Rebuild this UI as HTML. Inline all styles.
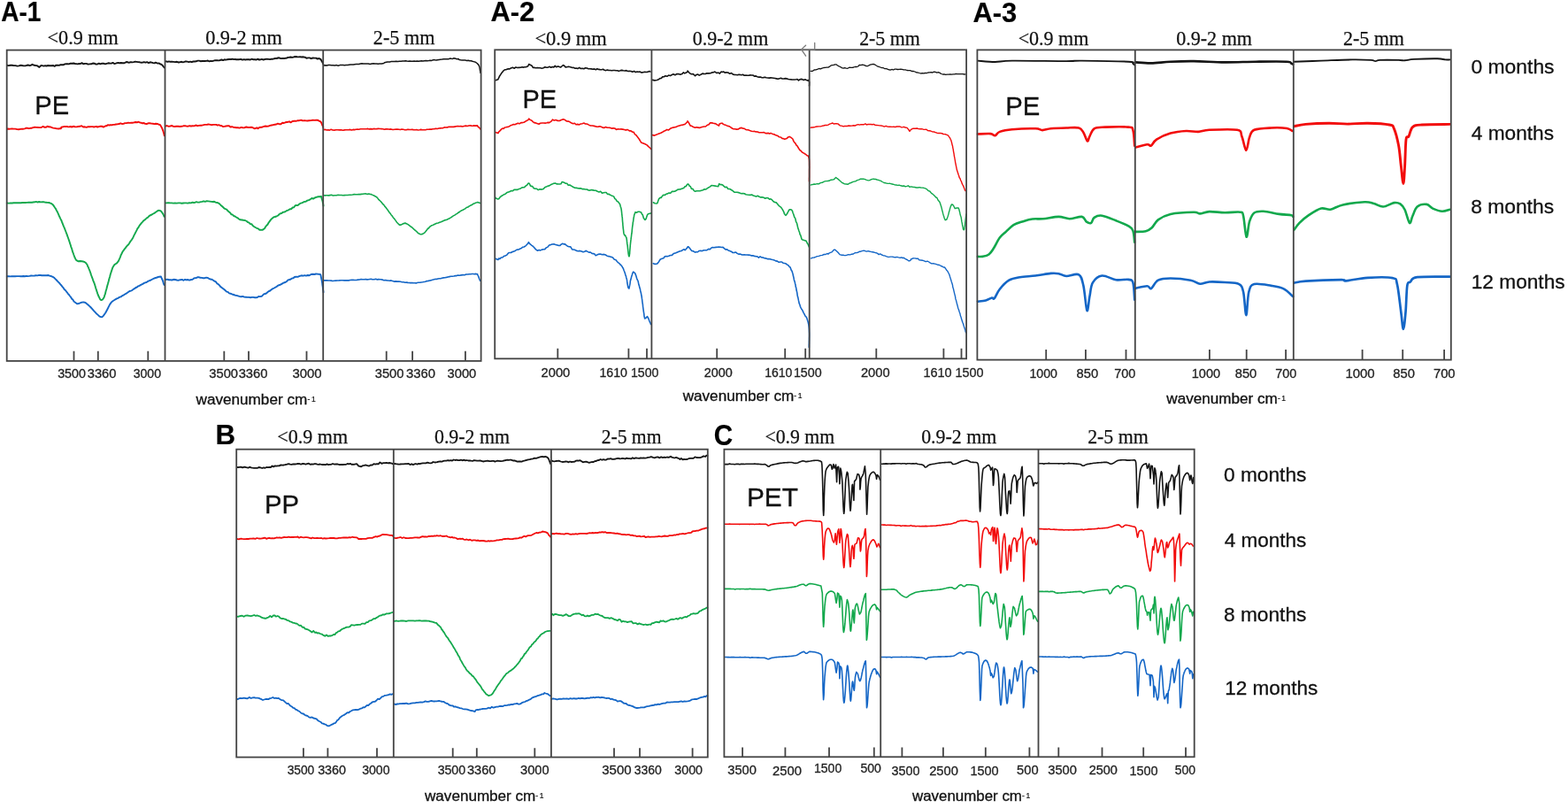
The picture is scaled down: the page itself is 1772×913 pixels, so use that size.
<!DOCTYPE html>
<html><head><meta charset="utf-8"><title>FTIR spectra of aged microplastics</title>
<style>html,body{margin:0;padding:0;background:#fff;overflow:hidden;} svg{display:block;}</style>
</head><body>
<svg width="1772" height="913" viewBox="0 0 1772 913">
<rect width="100%" height="100%" fill="#fff"/>
<g fill="none" stroke-linejoin="round" stroke-linecap="round">
<polyline points="7.9,73.7 8.9,74.1 10.3,74.0 11.9,73.8 13.7,73.7 15.6,74.1 17.5,74.1 19.5,74.6 21.4,74.4 23.1,73.8 24.7,74.0 26.7,74.4 28.6,74.4 30.4,73.8 32.1,73.5 33.7,74.2 35.2,73.7 36.5,72.8 38.9,73.8 40.6,74.1 42.0,74.2 44.4,75.9 46.5,74.0 47.6,74.1 49.7,74.6 51.0,74.2 52.6,74.5 54.3,74.0 56.2,74.2 58.2,74.2 60.2,74.0 61.7,74.9 63.4,73.6 65.0,73.7 66.8,73.9 68.5,73.1 70.1,73.2 71.8,73.3 73.3,72.4 75.0,72.3 76.4,72.3 77.7,72.4 79.2,71.8 81.2,71.7 83.8,71.5 85.0,72.1 86.3,72.1 87.8,72.4 89.3,72.0 90.9,72.0 92.5,71.1 94.2,72.2 96.0,71.9 97.7,71.9 99.5,72.6 101.4,72.4 103.2,72.3 104.9,71.5 106.7,71.7 108.4,72.6 110.1,72.5 111.8,71.6 113.5,72.3 115.2,71.7 117.0,71.7 118.8,72.3 120.5,71.8 122.3,71.3 124.1,71.5 125.8,71.6 127.5,70.9 129.2,72.0 130.8,71.6 132.3,71.1 133.7,70.9 135.1,71.4 136.4,71.0 138.7,71.3 140.6,71.3 142.3,70.3 143.8,70.0 145.2,70.7 146.5,70.5 147.9,70.1 149.5,70.4 151.1,70.1 152.8,69.7 154.4,69.9 156.1,70.1 157.8,70.3 159.4,70.7 161.1,70.6 162.7,70.1 164.4,70.7 166.2,70.2 168.0,71.1 169.7,70.3 171.5,70.6 173.1,71.1 174.5,71.4 175.8,70.7 178.2,71.6 179.8,71.4 181.1,72.4 182.8,73.0 184.0,74.4 185.7,76.5" stroke="#141414" stroke-width="1.9"/>
<polyline points="7.9,145.7 8.9,145.5 10.2,145.7 11.8,145.6 13.5,145.4 15.4,145.6 17.3,145.6 19.3,146.1 21.2,146.2 23.0,145.9 24.7,145.7 26.4,145.7 28.1,145.3 29.7,144.7 31.2,144.8 32.8,145.2 34.4,144.8 35.9,144.7 37.5,144.1 39.2,143.8 40.9,143.9 42.8,144.0 44.7,144.1 46.7,144.0 48.6,142.9 50.4,143.8 52.1,143.8 53.6,142.7 54.9,143.3 57.3,143.5 58.6,144.1 60.2,144.6 62.1,144.9 64.2,145.4 66.3,145.5 68.1,145.1 68.9,145.2 69.3,143.7 73.3,142.9 74.3,143.2 75.4,142.9 76.7,143.2 78.1,143.4 79.6,143.0 81.2,143.5 82.9,142.8 84.7,143.2 86.5,143.4 88.4,143.0 90.3,142.8 92.2,142.2 94.1,143.5 95.9,143.3 97.8,143.8 99.6,143.1 101.4,143.2 103.1,143.1 104.7,143.1 106.2,143.5 107.6,143.1 108.9,143.0 110.1,143.5 112.9,142.8 115.1,142.6 116.8,143.6 118.2,142.9 119.4,142.2 120.6,142.2 121.8,141.1 123.3,141.5 124.9,141.3 126.4,141.3 127.9,140.9 129.4,140.9 131.0,140.5 132.7,140.3 134.4,140.0 136.4,139.3 137.9,140.0 139.5,139.9 141.2,139.1 143.0,139.1 144.8,138.6 146.7,138.9 148.5,138.6 150.3,138.7 151.9,138.3 153.5,138.0 154.9,138.4 156.1,137.7 158.5,138.6 159.8,138.8 160.9,139.3 162.7,139.0 164.1,139.9 165.7,140.0 167.5,139.3 169.3,139.2 171.2,139.6 172.9,139.8 174.5,140.1 175.8,139.8 178.2,140.0 179.8,140.8 181.1,141.1 182.1,143.1 183.0,144.5 183.8,146.6 184.4,148.1 185.0,150.2 185.4,151.7 185.7,153.2" stroke="#f20c0c" stroke-width="1.9"/>
<polyline points="7.8,229.4 8.8,229.5 10.2,229.6 11.8,229.5 13.6,229.5 15.5,229.3 17.5,229.3 19.6,229.1 21.6,229.2 23.6,229.2 25.2,229.0 26.9,229.0 28.7,229.0 30.5,228.9 32.3,228.7 34.1,228.7 35.9,228.7 37.6,228.5 39.2,228.3 40.8,227.9 42.2,228.5 44.2,228.0 46.1,228.4 47.8,228.3 49.3,228.2 50.8,228.6 52.1,228.7 53.4,228.9 55.4,229.0 56.9,229.6 58.4,230.2 59.9,231.4 60.7,232.6 61.5,233.8 62.2,234.8 63.0,235.8 63.8,237.7 64.6,238.9 65.5,240.9 66.4,242.9 66.9,244.2 67.5,245.3 68.1,246.7 68.7,247.9 69.4,249.1 70.0,250.9 70.7,252.5 71.3,254.1 72.0,255.9 72.6,257.1 73.3,258.9 73.9,260.5 74.5,262.0 75.1,263.7 75.7,265.1 76.3,266.9 76.9,268.5 77.5,270.2 78.1,271.9 78.7,273.8 79.2,275.4 79.8,277.0 80.3,279.1 80.9,280.3 81.4,282.1 81.9,283.9 82.3,285.2 82.8,286.2 83.2,287.5 84.3,290.5 85.2,292.3 85.9,293.7 86.9,294.4 88.6,295.3 90.6,295.0 92.5,295.3 93.9,295.5 95.2,295.9 96.6,296.7 98.1,298.5 98.7,299.4 99.2,301.1 99.9,302.0 100.5,303.9 101.1,305.1 101.8,307.0 102.5,308.9 103.1,311.0 103.7,312.5 104.3,314.1 104.9,315.8 105.5,317.7 106.1,318.9 106.7,320.4 107.2,322.1 107.8,324.0 108.3,325.8 108.8,327.1 109.3,328.9 109.8,330.3 110.2,331.6 110.7,332.9 111.1,334.0 112.4,336.7 113.4,338.7 114.4,339.0 115.9,338.6 117.6,336.0 118.0,334.7 118.4,333.3 118.9,332.2 119.3,330.2 119.8,328.3 120.3,326.7 120.8,324.7 121.3,322.7 121.8,321.1 122.3,319.3 122.8,317.5 123.2,315.8 123.7,314.1 124.2,312.5 124.7,310.3 125.2,308.7 125.8,306.9 126.3,305.4 126.8,303.9 127.3,302.4 127.8,301.5 129.2,299.3 130.6,298.2 132.0,297.4 133.4,295.6 134.1,294.7 134.7,293.2 135.3,291.9 136.0,290.1 136.6,288.4 137.3,287.0 138.1,285.3 139.0,283.8 139.9,282.6 140.8,281.3 141.8,280.1 142.9,278.6 144.0,277.3 145.1,276.4 146.2,274.8 147.2,273.0 148.3,271.6 149.1,270.5 149.9,269.2 150.6,267.9 151.4,266.2 152.2,264.6 152.9,263.3 153.7,261.6 154.5,260.2 155.3,258.4 156.1,257.4 156.8,256.4 157.6,254.9 158.8,253.4 160.0,251.9 161.2,250.7 162.4,249.2 163.5,248.4 164.7,247.4 165.8,246.4 166.9,245.8 168.5,244.1 170.1,243.1 171.6,242.5 173.1,241.5 174.4,240.9 176.0,239.8 177.4,238.8 178.8,237.9 180.0,237.8 181.4,238.2 182.7,239.5 183.7,241.1 184.8,242.8 185.5,244.7" stroke="#12a84c" stroke-width="1.9"/>
<polyline points="7.8,312.2 8.8,312.2 10.1,312.3 11.5,312.4 13.2,312.3 15.0,312.3 17.0,312.3 19.1,312.1 21.3,312.1 23.6,312.3 25.0,312.3 26.5,312.0 28.1,312.2 29.8,311.9 31.6,312.1 33.4,311.9 35.2,311.5 37.1,311.6 38.9,311.5 40.7,311.3 42.4,311.4 44.1,310.9 45.7,311.0 47.2,311.2 48.5,311.3 49.7,311.3 52.7,311.3 54.7,311.0 56.2,311.7 57.5,311.9 59.0,312.6 60.3,313.2 61.5,314.1 62.7,315.3 63.9,316.5 65.1,317.8 66.4,319.2 67.3,320.0 68.3,321.3 69.4,322.5 70.4,323.9 71.5,325.1 72.5,326.7 73.6,327.7 74.7,329.0 75.7,330.3 76.8,331.8 77.9,333.0 79.0,334.5 80.1,335.8 81.2,337.7 82.3,338.6 83.3,340.3 84.2,341.2 85.0,341.7 87.1,343.2 88.8,343.0 90.5,342.4 92.4,341.6 94.3,341.5 95.6,341.6 97.0,342.3 98.4,343.6 99.9,344.8 101.1,345.9 102.3,347.0 103.6,348.4 104.9,349.9 106.2,351.4 107.4,352.6 108.8,354.2 110.2,355.4 111.5,356.6 112.7,357.7 113.9,358.1 115.5,358.2 116.8,356.9 118.5,354.5 119.2,353.5 119.9,352.2 120.7,350.7 121.5,349.3 122.4,347.4 123.3,345.6 124.2,343.9 125.1,342.6 126.0,341.4 127.4,340.2 128.9,339.3 130.4,338.3 132.0,337.4 133.6,336.8 135.3,335.6 136.6,335.4 137.9,334.3 139.3,333.7 140.7,332.8 142.2,331.9 143.6,331.0 145.0,330.0 146.4,329.0 147.8,328.6 149.2,328.1 150.6,326.9 152.0,326.2 153.4,325.0 154.8,324.5 156.2,323.3 157.6,322.8 159.2,321.9 160.8,321.2 162.4,320.1 164.0,319.4 165.6,319.0 167.2,317.8 168.8,317.2 170.5,316.5 172.2,315.5 174.0,314.7 175.8,314.0 177.4,313.5 178.8,313.0 180.0,312.7 181.9,312.5 182.7,314.5 183.5,316.1 184.3,318.3 185.0,320.9 185.5,321.9" stroke="#1466c6" stroke-width="1.9"/>
<polyline points="187.3,69.4 188.3,69.5 189.5,69.8 190.9,69.4 192.5,69.8 194.3,69.8 196.1,69.9 198.0,70.1 199.9,69.8 201.9,70.5 203.7,70.1 205.2,69.8 206.8,70.3 208.4,69.9 210.0,69.3 211.7,69.7 213.3,70.1 215.0,69.7 216.7,70.2 218.4,69.5 220.1,69.5 221.7,69.3 223.4,68.6 225.0,68.6 226.7,69.2 228.3,69.0 230.0,69.0 231.6,69.0 233.2,68.9 234.9,68.5 236.5,69.3 238.2,68.9 239.8,69.1 241.5,68.6 243.1,68.2 244.7,68.1 246.2,68.3 247.7,68.4 249.2,67.8 250.6,67.5 252.1,68.1 253.7,67.3 255.3,67.6 256.9,67.2 258.8,67.0 260.7,67.0 262.8,66.7 264.2,67.1 265.6,67.0 267.1,67.2 268.7,67.2 270.4,67.2 272.1,66.8 273.9,67.6 275.6,67.1 277.4,67.5 279.2,67.1 281.1,67.3 282.9,67.5 284.6,66.7 286.4,67.3 288.1,67.2 289.8,67.5 291.4,66.6 292.9,67.6 294.3,67.3 295.7,66.9 297.8,67.5 299.8,66.9 301.7,66.7 303.5,66.9 305.2,67.1 306.8,66.7 308.3,66.7 309.8,66.3 311.2,66.0 312.7,66.0 314.0,65.5 315.4,65.3 317.4,66.1 319.2,65.9 320.9,66.0 322.5,65.8 324.1,65.5 325.6,64.9 327.0,64.8 328.5,64.5 330.4,64.9 332.3,64.3 334.0,64.0 335.8,64.3 337.4,64.4 339.1,64.3 341.0,64.5 342.8,64.3 344.5,64.7 346.3,65.7 348.3,65.4 349.9,65.4 351.7,66.2 353.6,65.5 355.5,65.6 357.3,65.6 358.8,66.6 360.1,66.0 362.4,66.9 363.4,68.8 364.6,70.8 365.3,72.4" stroke="#141414" stroke-width="1.9"/>
<polyline points="187.3,142.5 188.3,142.0 189.4,142.4 190.7,142.8 192.2,142.6 193.9,142.0 195.6,142.7 197.4,143.0 199.3,142.8 201.3,142.7 203.3,143.0 205.2,142.8 207.2,142.3 209.1,142.1 210.9,142.6 212.6,142.7 214.2,142.2 216.0,142.5 217.7,142.3 219.5,142.4 221.2,141.5 223.0,142.2 224.7,141.9 226.3,141.8 228.0,141.7 229.6,141.3 231.1,140.9 232.6,140.9 234.0,140.9 235.3,140.5 236.6,140.6 238.9,141.2 240.9,140.9 242.7,140.9 244.4,140.9 245.8,141.6 247.2,141.2 248.4,141.7 250.7,142.2 252.2,143.1 253.6,142.9 255.4,142.5 257.6,142.1 258.9,142.3 260.4,143.5 262.0,143.2 263.7,143.7 265.5,144.0 267.1,144.3 268.9,144.3 270.8,144.6 272.6,143.9 274.4,144.3 276.0,144.4 278.2,143.5 280.3,144.0 282.2,144.0 283.9,143.8 285.8,144.2 287.4,145.2 289.1,145.0 290.3,144.3 291.5,145.3 293.1,144.0 295.7,143.8 296.9,143.3 298.3,142.9 299.9,142.5 301.5,142.7 303.3,142.6 305.1,141.9 307.0,141.5 308.8,141.1 310.6,140.7 312.3,140.5 313.9,139.7 315.4,140.2 317.4,140.2 319.2,138.7 320.9,139.0 322.5,138.3 324.1,138.0 325.6,137.8 327.0,137.3 328.5,138.4 330.5,137.0 332.4,136.8 334.3,136.8 336.1,136.3 337.7,136.3 339.1,135.9 340.8,135.8 342.0,136.4 344.3,136.1 345.7,136.4 347.3,136.5 349.2,136.3 351.3,136.1 353.4,135.8 355.4,135.9 357.2,135.8 358.8,135.7 360.1,136.4 362.6,137.7 363.4,139.2 364.2,141.5 364.9,142.3 365.3,144.0" stroke="#f20c0c" stroke-width="1.9"/>
<polyline points="187.4,229.4 188.3,229.4 189.5,229.2 190.9,229.3 192.4,229.4 194.1,229.4 195.9,229.6 197.8,229.5 199.7,229.6 201.6,229.4 203.5,229.4 205.4,229.8 207.2,229.5 208.9,229.4 210.5,229.4 211.9,229.6 214.0,229.2 215.8,229.4 217.5,228.7 219.1,229.0 220.6,228.7 222.0,228.2 223.5,228.6 225.1,228.6 226.8,228.1 228.4,227.9 230.1,227.3 231.9,227.9 233.7,227.2 235.4,227.4 237.2,227.6 238.9,227.9 240.6,228.0 242.1,227.8 243.6,228.6 245.3,229.0 246.8,229.4 248.3,230.6 249.6,231.9 250.9,233.0 252.2,234.2 253.4,235.5 254.7,236.2 256.1,236.7 257.5,238.3 258.9,239.4 260.2,240.4 261.5,242.4 262.8,242.5 264.0,243.9 265.6,244.5 267.1,245.5 268.6,246.3 270.0,247.5 271.5,248.3 273.3,248.5 275.1,248.8 276.9,249.0 278.9,250.0 280.2,251.2 281.5,251.7 282.9,253.1 284.3,253.2 285.7,255.0 287.0,256.0 288.2,256.7 290.1,257.8 291.8,258.4 293.3,259.7 294.7,259.7 296.5,259.9 298.5,258.5 299.3,257.8 300.3,255.9 301.3,254.8 302.4,253.8 303.5,251.7 304.7,250.1 305.8,248.6 306.8,247.4 308.2,246.3 309.5,245.3 310.8,245.0 312.3,244.5 314.3,243.5 315.5,242.2 316.8,241.3 318.2,241.0 319.7,239.7 321.3,239.6 322.9,238.8 324.5,237.8 326.1,237.3 327.7,236.2 329.2,236.2 330.7,234.5 332.2,234.2 333.6,232.3 335.1,232.0 336.5,232.1 338.0,230.7 339.5,229.7 341.0,229.3 342.5,228.7 344.1,227.9 345.6,227.7 347.2,226.6 348.9,226.1 350.6,225.3 352.4,224.0 354.0,224.6 355.7,223.5 357.2,222.9 358.6,222.5 359.8,222.1 360.8,222.2 363.1,222.0 363.6,224.3 364.1,226.0 364.5,227.2 364.9,229.3 365.3,231.0 365.5,232.6" stroke="#12a84c" stroke-width="1.9"/>
<polyline points="187.4,315.8 188.3,315.9 189.5,315.6 190.9,316.3 192.5,316.1 194.2,316.5 196.1,315.8 198.0,316.0 199.9,316.5 201.9,316.7 203.8,316.2 205.7,315.9 207.5,316.8 209.1,315.8 210.6,316.4 211.9,316.0 214.2,316.6 216.0,316.0 217.5,315.9 218.9,314.7 220.2,314.1 221.5,314.1 223.1,313.3 224.7,313.2 226.3,313.8 228.0,313.9 229.7,314.2 231.4,314.2 233.1,313.6 234.6,313.9 236.1,314.8 237.9,315.5 239.5,315.8 241.0,316.7 242.4,317.7 243.9,318.4 245.4,320.5 246.7,321.2 248.0,322.4 249.3,324.1 250.6,324.9 251.9,325.9 253.3,327.0 254.7,328.3 256.1,329.6 257.5,329.9 259.0,331.4 260.5,331.7 262.1,332.4 263.9,333.0 265.9,333.7 267.3,333.9 268.9,334.4 270.6,334.9 272.4,335.3 274.3,334.9 276.1,335.6 278.0,335.7 279.8,335.9 281.5,335.9 283.1,336.2 284.5,335.9 286.4,335.9 288.0,336.2 289.4,336.2 290.8,336.1 292.2,335.0 293.8,335.1 295.7,334.8 296.9,333.6 298.2,332.3 299.5,332.0 300.9,331.5 302.3,330.3 303.8,329.1 305.3,328.5 306.8,327.1 308.3,326.2 309.9,325.5 311.4,324.5 312.8,323.8 314.3,322.6 315.9,322.0 317.5,321.4 319.1,320.4 320.7,319.5 322.3,319.0 323.9,318.1 325.5,316.4 327.1,316.0 328.6,315.5 330.1,314.4 331.5,314.2 332.9,313.0 334.8,312.8 336.5,312.9 338.1,312.1 339.7,311.6 341.2,311.3 342.7,311.7 344.3,311.2 345.9,311.6 347.7,311.0 349.6,311.3 351.6,310.0 353.5,309.7 355.4,310.0 357.1,309.5 358.7,309.6 359.9,309.8 361.8,309.9 362.4,310.7 363.0,313.9 363.3,315.4 363.6,316.6 363.9,318.2 364.2,320.1 364.4,322.1 364.7,323.9 365.0,326.3 365.2,327.9 365.4,328.9 365.5,330.3" stroke="#1466c6" stroke-width="1.9"/>
<polyline points="365.9,73.7 366.9,73.9 368.0,73.8 369.4,74.0 371.0,73.6 372.7,73.6 374.5,73.8 376.4,73.7 378.3,73.9 380.3,73.6 382.2,74.2 384.1,73.6 385.9,73.6 387.7,73.6 389.3,73.8 391.1,73.5 392.8,73.6 394.4,73.3 396.0,73.1 397.6,73.1 399.2,73.1 400.8,72.8 402.4,72.6 404.0,72.5 405.6,72.4 407.3,72.0 409.0,71.8 410.7,71.9 412.5,72.1 414.3,72.1 416.2,71.9 418.2,72.4 420.1,72.0 422.0,71.7 423.8,72.0 425.6,71.9 427.3,72.3 428.8,72.1 430.1,72.0 431.3,71.9 433.8,71.4 434.5,70.8 436.6,70.3 437.8,70.0 439.1,69.9 440.6,70.0 442.3,69.4 444.0,69.5 445.8,69.4 447.7,69.3 449.5,69.4 451.4,69.2 453.2,69.3 455.0,69.1 456.6,69.0 458.2,68.8 459.8,69.1 461.5,69.3 463.1,69.1 464.8,69.2 466.4,69.3 468.1,69.1 469.7,69.2 471.4,69.1 473.1,69.3 474.7,68.9 476.3,68.8 478.0,69.0 479.6,68.7 481.3,68.5 482.9,68.8 484.6,68.6 486.2,68.3 487.8,68.4 489.5,67.8 491.1,67.6 492.8,68.1 494.4,67.7 496.1,67.4 497.8,67.2 499.6,67.1 501.5,66.8 503.3,66.7 505.1,66.7 506.8,66.7 508.5,66.1 510.1,66.3 511.6,66.4 512.9,65.7 514.1,66.0 516.5,66.7 517.8,66.4 518.9,67.4 520.7,67.7 522.1,67.9 523.7,68.1 525.5,67.9 527.3,68.5 529.2,68.3 530.9,68.7 532.5,68.7 533.8,69.2 536.3,69.9 537.8,70.5 539.1,71.5 540.5,72.9 541.5,74.6 542.0,76.3 542.4,79.0 542.8,81.0 543.0,82.3" stroke="#141414" stroke-width="1.5"/>
<polyline points="365.9,146.7 366.8,146.3 368.0,146.6 369.3,147.0 370.8,146.7 372.4,147.1 374.1,146.3 376.0,147.0 377.8,147.1 379.8,146.8 381.7,146.7 383.7,146.9 385.6,146.8 387.5,147.2 389.3,146.9 390.9,146.8 392.4,146.8 394.1,146.8 395.7,146.4 397.3,147.0 399.0,146.4 400.6,146.6 402.3,146.2 403.9,146.1 405.6,146.3 407.3,145.8 409.0,145.8 410.6,145.7 412.3,145.8 414.0,145.7 415.6,145.4 417.3,145.9 419.0,145.6 420.7,145.9 422.4,145.4 424.1,145.8 425.9,145.6 427.6,145.4 429.4,145.5 431.1,145.6 432.7,145.8 434.4,146.3 436.0,145.9 437.5,145.8 439.0,146.0 440.4,146.1 441.8,145.9 444.0,146.5 445.9,146.2 447.7,146.1 449.3,146.1 450.9,146.3 452.4,146.5 454.0,146.0 455.7,146.3 457.6,146.7 459.1,146.8 460.7,146.2 462.3,146.4 464.0,146.5 465.7,146.4 467.4,146.6 469.1,146.7 470.8,146.5 472.5,147.0 474.1,146.8 475.7,146.4 477.3,146.7 479.1,146.7 480.8,146.7 482.5,146.2 484.2,146.2 485.8,146.0 487.5,146.1 489.2,145.8 490.9,145.6 492.6,145.2 494.4,145.5 495.9,145.0 497.5,144.9 499.1,144.8 500.7,144.6 502.3,143.9 503.9,144.0 505.6,143.9 507.2,143.3 508.9,143.4 510.6,143.3 512.4,143.4 514.1,143.1 515.7,142.8 517.3,142.6 519.1,142.8 520.9,142.6 522.7,143.0 524.5,142.5 526.3,142.1 528.1,142.5 529.8,142.0 531.4,141.9 532.9,142.1 534.3,142.2 535.5,141.9 536.5,142.1 539.5,141.9 540.0,143.0 541.7,144.3 543.0,146.0" stroke="#f20c0c" stroke-width="1.6"/>
<polyline points="366.4,220.8 367.3,220.9 368.5,220.8 369.8,220.7 371.3,220.9 372.9,220.6 374.6,220.3 376.4,221.0 378.3,220.7 380.2,220.8 382.1,220.3 384.0,220.5 385.9,220.5 387.6,220.8 389.3,220.6 390.9,220.5 392.8,220.5 394.7,220.3 396.5,220.2 398.4,220.0 400.2,219.6 402.0,219.8 403.7,219.7 405.4,219.6 407.0,219.6 408.6,219.4 410.0,219.2 411.4,219.0 413.5,218.9 415.3,219.4 416.9,219.0 418.3,219.5 419.7,219.6 421.1,220.4 422.6,220.8 423.8,221.8 425.1,222.3 426.4,223.4 427.6,225.1 428.9,226.3 430.1,227.5 431.4,228.9 432.5,230.5 433.7,231.4 434.8,233.1 435.9,234.3 437.0,235.8 438.0,237.1 439.0,238.5 440.0,240.0 441.0,241.1 442.0,242.7 443.0,243.7 444.1,245.4 445.2,246.7 446.3,248.1 447.4,249.6 448.4,251.2 449.5,252.3 450.4,253.2 451.4,254.1 453.1,254.1 454.7,253.3 456.2,252.5 457.9,252.1 459.3,252.7 460.7,253.4 462.1,254.4 463.7,255.7 465.4,256.7 466.6,257.9 467.9,259.1 469.3,260.3 470.7,261.5 472.2,263.1 473.6,264.1 475.1,264.7 476.5,264.6 477.7,264.4 478.8,263.7 480.0,262.8 481.1,261.5 482.2,260.1 483.4,258.5 484.7,257.5 486.1,255.9 487.7,254.8 489.0,254.4 490.4,253.7 491.9,253.0 493.5,252.3 495.1,252.0 496.8,251.3 498.4,250.7 500.1,250.0 501.7,249.3 503.3,248.6 504.9,248.2 506.3,247.6 507.9,246.7 509.5,245.9 510.9,244.8 512.3,243.9 513.8,243.1 515.2,242.1 516.6,241.4 518.0,240.2 519.6,239.2 521.2,238.1 522.6,237.6 524.0,236.7 525.6,235.9 527.2,234.5 528.8,234.0 530.4,232.9 532.1,232.0 533.6,231.3 535.1,230.1 536.5,229.8 537.8,229.1 538.9,228.8 539.8,228.5 542.6,229.4" stroke="#12a84c" stroke-width="1.6"/>
<polyline points="366.4,316.9 367.3,316.7 368.4,316.9 369.6,316.9 371.0,317.0 372.6,317.0 374.2,317.1 375.9,317.5 377.7,317.2 379.5,317.1 381.4,317.0 383.3,316.9 385.3,316.7 387.2,316.8 389.1,316.9 390.9,316.8 392.4,316.9 394.1,316.9 395.7,316.5 397.4,316.4 399.2,316.4 400.9,316.5 402.7,316.5 404.5,316.1 406.3,316.0 408.1,315.5 409.8,315.7 411.5,315.8 413.2,315.5 414.9,315.9 416.4,315.8 417.9,315.5 419.4,315.3 420.7,315.7 422.9,315.7 424.7,315.2 426.4,315.9 427.9,315.6 429.3,315.8 430.7,315.8 432.1,316.1 433.7,316.7 435.4,316.5 437.4,316.9 438.8,317.0 440.3,317.2 441.9,316.9 443.6,317.4 445.4,318.1 447.2,317.9 449.0,318.1 450.8,318.1 452.6,318.2 454.4,318.8 456.1,318.8 457.8,319.2 459.4,319.1 460.9,319.4 462.3,319.5 463.5,319.6 465.8,319.6 467.6,319.8 469.0,319.7 470.2,319.9 471.4,319.5 472.8,319.3 474.7,319.3 476.1,319.0 477.6,318.8 479.1,318.5 480.7,318.2 482.3,317.6 484.0,317.4 485.8,317.0 487.6,316.6 489.5,316.1 491.4,315.5 493.3,315.4 494.8,315.0 496.3,314.7 497.9,314.8 499.5,314.2 501.1,313.9 502.8,313.7 504.5,313.4 506.2,313.0 507.9,312.6 509.6,312.3 511.2,312.2 512.9,312.0 514.5,311.6 516.0,311.6 517.5,311.1 519.3,311.2 521.2,310.9 523.1,310.6 525.0,310.8 526.8,310.0 528.6,310.0 530.3,309.7 531.9,309.7 533.4,309.5 534.8,309.5 536.0,309.7 537.0,309.4 539.6,309.7 540.0,311.0 540.7,312.4 541.5,314.8 542.1,315.9 542.6,317.3" stroke="#1466c6" stroke-width="1.6"/>
<polyline points="560.0,90.8 562.9,89.8 563.7,87.8 564.4,86.3 565.5,84.6 566.5,83.1 567.7,81.6 569.0,79.9 570.8,78.7 572.2,78.6 573.8,77.9 575.6,77.9 577.4,77.1 579.3,76.3 581.3,77.2 582.9,76.0 584.6,76.5 586.5,76.4 588.3,76.3 590.1,75.8 591.8,76.1 593.2,75.7 594.4,75.8 596.7,74.8 597.7,72.5 599.1,73.2 601.0,74.2 602.3,76.4 603.7,76.4 605.4,76.7 607.6,76.5 609.0,76.8 610.5,76.8 612.3,77.2 614.1,76.8 615.9,75.7 617.6,76.3 619.3,76.2 620.7,75.3 622.7,76.3 624.4,75.6 625.9,75.9 627.3,74.4 628.6,75.7 630.6,74.9 632.4,75.6 633.8,75.9 634.8,75.0 636.5,73.6 637.7,74.3 639.1,75.9 640.7,75.8 642.5,75.3 644.6,75.7 647.0,76.5 648.3,76.4 649.8,77.2 651.3,77.1 652.9,77.6 654.6,76.4 656.3,77.5 658.0,77.3 659.8,77.8 661.6,76.8 663.3,77.0 665.0,77.7 666.7,77.8 668.3,77.9 670.0,78.3 671.6,77.9 673.3,78.7 674.9,77.8 676.5,78.4 678.2,78.6 679.8,78.7 681.5,78.3 683.1,79.3 684.8,79.6 686.4,79.1 688.0,79.5 689.7,79.5 691.3,79.8 693.0,79.5 694.6,79.5 696.2,79.7 697.9,79.8 699.5,80.4 701.2,79.6 702.8,79.4 704.5,79.8 706.1,80.0 707.8,79.6 709.5,80.5 711.3,80.4 713.1,80.5 714.8,81.3 716.6,80.4 718.3,81.6 720.0,81.0 721.6,81.2 723.1,81.0 724.5,81.9 725.8,81.9 728.5,81.2 730.7,81.5 732.5,81.1 733.9,80.5 735.0,81.0" stroke="#141414" stroke-width="1.6"/>
<polyline points="560.0,149.6 562.9,150.5 563.8,148.9 564.9,147.9 566.8,145.9 567.9,145.0 569.1,145.4 570.5,144.0 572.0,143.8 573.6,143.4 575.3,142.9 577.0,141.8 578.7,141.2 580.2,140.6 581.8,140.8 583.5,140.0 585.3,139.2 587.1,139.8 588.8,138.6 590.5,138.6 592.0,138.2 593.3,137.5 594.4,136.8 596.8,135.6 597.7,134.1 599.1,135.4 601.0,136.3 602.3,137.6 603.7,138.6 605.4,138.9 607.6,139.7 609.0,140.2 610.6,139.2 612.4,139.0 614.3,139.0 616.2,139.1 617.9,138.8 619.5,138.4 620.7,138.6 622.9,137.2 624.6,135.1 626.2,136.1 628.2,135.5 630.3,136.4 632.3,136.5 633.8,135.8 636.5,134.8 637.6,135.1 638.9,135.8 640.5,137.0 642.2,137.1 644.0,137.8 645.9,139.1 647.7,139.8 649.4,139.3 650.9,140.8 652.2,140.4 654.6,140.9 656.3,140.0 657.9,139.7 660.1,139.1 661.5,140.0 662.9,140.0 664.4,140.6 666.0,141.4 667.6,142.0 669.4,142.0 671.3,142.4 673.3,142.9 674.7,143.2 676.2,143.1 677.8,142.8 679.4,143.2 681.0,144.1 682.7,144.4 684.5,143.6 686.2,144.3 687.9,144.2 689.6,144.4 691.3,145.1 693.0,144.9 694.7,145.0 696.5,146.4 698.3,145.8 700.1,146.0 701.9,145.9 703.8,146.1 705.5,146.5 707.2,147.1 708.8,146.4 710.3,147.1 711.6,148.0 712.7,147.8 715.0,149.2 716.1,149.2 716.8,150.7 717.9,152.1 719.0,152.7 720.1,154.3 721.4,155.9 722.5,157.5 723.6,159.4 724.5,160.9 727.1,162.0 729.0,162.8 731.1,163.9 732.8,165.6 734.5,167.0 735.7,168.4" stroke="#f20c0c" stroke-width="1.6"/>
<polyline points="559.9,223.1 560.7,224.3 562.9,224.9 563.9,224.5 565.1,222.8 566.4,221.7 567.9,220.8 569.4,219.8 571.1,219.2 572.9,217.6 574.7,217.0 576.1,216.6 577.7,215.5 579.5,215.7 581.3,214.2 583.1,214.4 584.9,214.4 586.7,213.4 588.4,212.9 590.0,211.9 591.3,211.7 592.5,211.7 594.7,209.7 595.9,208.8 596.7,207.4 597.4,207.0 598.3,207.5 599.4,209.9 600.5,210.4 601.8,210.6 603.2,212.7 604.8,213.1 606.3,213.2 608.2,214.6 610.1,213.7 612.1,214.1 614.2,213.4 615.7,211.8 617.3,211.1 619.0,210.3 620.7,209.9 622.3,208.8 624.0,208.1 625.7,207.3 627.5,207.1 629.4,207.9 631.1,208.0 632.6,208.0 633.9,207.8 635.1,205.6 636.9,206.1 638.0,206.4 639.2,207.3 640.7,207.3 642.2,209.2 643.9,209.0 645.7,210.1 647.6,211.3 649.6,212.2 651.6,212.4 653.1,212.7 654.6,212.9 656.3,212.7 658.0,213.6 659.7,213.5 661.5,214.0 663.3,214.0 665.1,215.0 666.8,215.1 668.6,214.6 670.2,214.9 671.8,215.3 673.3,215.3 675.2,216.3 677.0,217.0 678.7,216.3 680.4,218.3 682.1,217.7 683.6,217.5 685.1,217.5 686.5,219.4 687.9,219.2 689.1,220.0 690.9,220.9 692.4,221.4 693.7,222.1 694.9,224.6 695.9,225.1 697.0,227.1 698.0,227.7 698.9,228.3 699.8,229.9 700.5,230.4 701.2,233.2 701.9,235.3 702.1,236.3 702.3,237.6 702.5,239.3 702.7,241.5 702.9,243.0 703.1,244.9 703.3,246.1 703.4,248.2 703.6,250.6 703.8,252.3 703.9,254.5 704.1,256.0 704.2,257.7 704.4,258.9 704.6,260.5 704.7,261.6 704.9,263.4 705.7,265.8 706.4,265.7 707.2,267.3 707.9,268.5 708.1,269.6 708.4,271.7 708.6,274.2 708.8,275.7 709.1,277.0 709.3,278.8 709.5,281.2 709.8,283.4 710.0,285.5 710.2,287.2 710.4,287.9 710.6,289.5 710.8,289.6 711.0,289.8 711.2,289.3 711.4,287.5 711.6,286.8 711.7,284.5 711.9,282.2 712.1,279.6 712.3,276.8 712.5,275.1 712.8,272.3 713.0,270.9 713.1,269.8 713.3,268.4 713.5,267.0 713.7,264.9 714.0,263.5 714.2,261.1 714.4,258.8 714.6,257.0 714.9,254.6 715.1,253.8 715.3,251.2 715.6,250.4 715.8,248.4 716.0,247.0 716.3,245.4 716.5,244.6 716.7,243.0 718.0,239.7 719.4,240.3 720.7,239.3 722.6,239.3 724.6,240.0 725.5,241.9 726.4,243.1 727.3,246.2 728.2,247.6 729.0,248.4 730.0,247.5 730.8,245.1 731.7,242.5 732.5,241.7 735.5,240.9" stroke="#12a84c" stroke-width="1.6"/>
<polyline points="559.9,292.2 562.9,293.5 563.9,291.9 565.0,292.4 566.3,291.0 567.8,291.0 569.3,289.6 571.0,289.0 572.8,288.1 574.7,285.7 576.0,285.5 577.5,285.5 579.0,284.5 580.7,284.1 582.5,283.2 584.2,282.1 586.0,282.0 587.7,281.1 589.3,280.4 590.8,279.2 592.2,279.0 593.4,278.3 594.4,277.5 596.5,275.3 597.4,273.6 598.3,275.1 599.5,276.2 600.7,277.1 602.1,278.1 603.5,279.5 604.9,281.1 606.2,282.3 607.3,283.2 609.2,282.4 610.8,282.9 612.3,282.1 614.2,281.7 615.7,281.6 617.3,279.9 619.0,279.1 620.7,277.0 622.4,276.6 624.0,276.0 625.9,275.8 627.9,276.5 629.8,276.9 631.5,277.4 632.9,277.5 634.0,276.2 635.9,275.3 637.0,275.9 638.3,275.7 639.7,276.9 641.4,278.2 643.1,278.7 644.8,278.9 646.6,281.9 648.4,282.0 650.0,282.5 651.6,283.4 653.5,283.7 655.3,283.4 657.2,283.9 659.0,284.7 660.7,284.3 662.4,283.3 664.0,284.4 665.5,285.1 667.3,285.0 669.0,286.4 670.5,286.6 671.9,287.1 673.2,288.8 674.3,288.3 676.0,287.4 678.3,287.0 679.5,287.4 680.9,287.7 682.6,287.4 684.3,288.0 686.1,289.2 687.9,289.6 689.6,290.1 691.1,290.4 692.7,291.3 694.3,293.2 695.8,293.6 697.2,295.3 698.5,296.7 699.8,297.6 701.0,299.0 701.9,299.7 702.8,300.8 703.6,302.2 704.3,303.3 705.0,305.3 705.7,307.0 706.3,308.6 706.9,310.8 707.4,311.8 707.8,313.9 708.2,315.1 708.5,316.4 708.9,320.0 709.2,321.3 709.5,323.1 709.8,324.5 710.1,325.3 710.4,325.7 710.9,326.0 711.3,324.1 711.6,322.7 712.0,320.6 712.4,317.1 712.8,316.1 713.3,314.1 713.9,311.8 714.4,310.4 715.0,308.3 715.7,307.1 716.6,307.8 717.6,308.6 718.6,311.1 719.7,314.8 720.1,315.6 720.5,316.8 721.0,317.3 721.5,319.7 721.9,321.8 722.4,323.0 722.8,324.9 723.3,326.1 723.8,328.7 724.2,330.3 724.6,332.0 724.9,334.2 725.1,334.3 725.4,337.2 725.6,338.2 725.9,341.0 726.1,342.3 726.4,344.1 726.6,346.6 726.8,348.0 727.1,350.1 727.3,351.6 727.5,353.1 727.8,354.6 728.0,357.3 728.2,358.0 728.4,358.7 728.6,360.0 730.0,359.2 731.5,357.5 732.1,358.8 732.9,360.0 733.7,362.3 734.4,364.0 735.1,365.2 735.5,366.5" stroke="#1466c6" stroke-width="1.6"/>
<polyline points="737.6,90.4 739.7,90.9 742.2,90.5 743.2,90.2 744.1,89.8 746.1,88.5 747.3,88.5 748.7,86.9 750.3,86.8 752.0,85.8 753.8,86.3 755.6,85.1 757.5,85.6 759.3,84.5 761.0,83.8 762.9,84.8 764.9,83.5 766.9,83.6 768.8,84.2 770.7,83.6 772.4,81.9 773.8,82.9 775.0,82.3 776.9,81.4 777.0,80.0 779.0,82.3 780.2,83.2 781.6,83.8 783.4,83.6 785.6,85.8 787.0,84.4 788.5,84.0 790.2,85.1 792.0,84.2 793.8,83.1 795.5,83.4 797.2,83.5 798.7,82.7 800.9,82.9 802.8,82.7 804.7,81.9 806.4,81.7 807.9,81.1 810.1,82.6 811.8,82.1 813.2,83.1 815.1,81.0 816.2,81.4 817.6,81.0 819.2,82.2 820.9,81.7 822.8,82.0 824.7,83.3 826.6,82.6 828.5,84.2 830.2,84.4 831.8,84.5 833.4,84.7 834.9,84.2 836.4,84.4 837.9,84.8 839.5,84.3 841.1,85.3 842.9,85.1 844.7,85.3 846.2,85.2 847.7,84.9 849.3,85.0 850.9,85.0 852.5,86.1 854.2,85.9 855.9,86.8 857.6,87.1 859.4,87.1 861.1,87.7 862.7,87.6 864.4,87.2 866.0,87.8 867.7,88.0 869.3,88.1 871.0,87.9 872.6,88.0 874.2,88.2 875.9,88.5 877.5,88.9 879.2,89.3 880.8,88.8 882.5,88.3 884.1,89.0 885.8,89.0 887.5,88.6 889.3,88.9 891.0,89.5 892.8,89.7 894.6,89.9 896.3,90.0 898.0,90.0 899.6,89.8 901.1,89.5 902.5,90.9 903.8,89.8 906.1,89.4 908.2,90.5 909.9,89.8 911.4,90.6 912.7,91.0 913.7,90.6 914.7,92.8 914.6,95.4 914.5,97.0" stroke="#141414" stroke-width="1.6"/>
<polyline points="737.6,152.6 739.7,153.1 742.2,152.1 743.2,151.6 744.1,151.3 746.1,150.6 747.3,150.0 748.7,149.3 750.3,148.2 752.0,147.5 753.8,146.4 755.6,146.9 757.5,145.3 759.3,144.5 760.8,144.1 762.5,143.7 764.3,143.4 766.1,142.4 767.8,141.9 769.6,141.4 771.2,141.3 772.7,140.7 774.0,140.4 775.0,139.5 776.9,137.6 777.0,136.9 777.7,137.7 779.0,139.9 780.2,142.1 781.7,142.3 783.5,143.5 785.6,144.2 787.1,143.8 788.8,144.1 790.6,144.4 792.5,143.8 794.4,143.2 796.0,143.0 797.4,143.0 799.6,141.2 801.1,140.8 802.6,138.8 804.4,138.9 806.2,139.3 807.9,139.6 809.6,140.3 811.1,141.3 812.5,142.1 813.1,139.9 815.1,139.3 816.1,139.2 817.4,140.4 818.9,141.1 820.6,141.6 822.3,142.4 824.1,142.7 825.8,143.8 827.4,145.0 828.9,145.7 830.2,145.7 832.6,146.1 834.3,146.0 835.9,144.9 838.1,144.4 839.5,145.1 840.9,145.2 842.4,146.2 844.0,146.7 845.6,146.7 847.4,147.6 849.3,148.3 851.3,148.5 852.8,148.4 854.4,148.9 856.1,149.0 857.9,149.8 859.7,149.7 861.6,149.8 863.4,149.6 865.2,150.6 866.9,150.6 868.4,150.4 869.8,151.1 871.0,150.4 873.5,151.6 874.9,151.7 876.0,152.5 877.5,152.9 878.9,153.4 880.6,154.8 882.3,155.0 883.9,156.4 885.4,156.6 886.7,157.3 889.0,156.6 890.7,154.9 892.2,154.4 893.9,155.4 895.9,157.0 896.8,159.4 897.7,160.8 898.7,161.6 899.8,163.8 900.8,164.7 901.9,166.5 902.9,168.1 903.8,169.5 905.2,170.5 906.7,172.3 908.0,172.8 909.3,173.7 910.4,174.2 912.0,175.8 913.4,176.1 914.3,179.1 914.4,180.0 914.5,181.0 914.6,183.1 914.6,184.9 914.6,185.9 914.7,188.6 914.7,189.5 914.6,191.9 914.6,194.3 914.6,196.0 914.6,198.0 914.6,200.1 914.5,201.2 914.5,203.0 914.5,204.0 914.5,205.0" stroke="#f20c0c" stroke-width="1.6"/>
<polyline points="738.3,228.8 740.0,229.8 742.2,230.0 743.0,229.3 743.6,227.4 744.5,224.9 746.1,223.2 747.1,223.5 748.4,221.6 749.7,220.3 751.2,220.5 752.8,219.3 754.4,218.9 756.0,218.0 757.7,218.3 759.3,216.4 760.8,216.4 762.5,216.3 764.3,215.3 766.0,214.1 767.8,214.0 769.6,213.6 771.2,212.9 772.7,212.5 774.0,210.8 775.0,210.7 776.6,208.6 777.2,207.9 778.1,208.2 779.1,210.1 780.3,210.7 781.5,213.5 782.9,213.3 784.2,215.4 785.6,216.3 787.3,215.7 789.0,215.8 790.9,215.8 792.7,215.2 794.5,214.7 796.1,213.7 797.8,214.0 799.5,212.6 801.0,211.8 802.5,210.8 804.0,209.6 806.1,209.7 808.2,210.1 810.2,210.5 811.8,210.6 812.6,207.7 814.5,208.8 815.5,208.6 816.7,209.1 818.1,210.4 819.5,211.6 821.2,211.3 822.8,213.5 824.6,213.5 826.4,214.5 828.1,215.7 829.9,217.2 831.6,217.2 833.1,217.3 834.7,217.6 836.3,218.2 837.9,218.8 839.6,218.6 841.2,218.7 842.9,219.7 844.5,220.0 846.2,220.2 847.9,220.4 849.6,220.0 851.3,221.0 852.9,221.5 854.6,222.1 856.2,221.3 858.0,222.3 859.7,222.9 861.4,222.7 863.1,223.2 864.8,224.2 866.5,223.6 868.1,223.8 869.6,225.1 871.0,224.8 872.3,225.7 874.1,227.7 875.7,228.6 877.2,228.7 878.6,230.4 879.9,232.1 881.1,233.1 882.2,233.9 883.2,235.1 884.1,236.4 885.6,239.1 886.5,241.7 887.2,242.6 888.1,243.3 889.1,242.0 890.1,240.5 891.2,238.2 892.2,236.7 893.3,236.8 894.0,236.9 894.7,237.4 895.4,238.2 896.1,240.4 896.9,242.6 897.7,245.3 898.6,246.4 899.1,248.2 899.6,250.8 900.1,251.3 900.6,252.5 901.2,255.2 901.8,257.9 902.3,259.0 902.9,261.0 903.5,262.3 904.1,265.0 904.6,265.6 905.1,267.1 905.6,268.8 906.1,270.4 906.5,270.7 908.7,271.4 910.4,271.9 911.2,272.5 912.1,274.5 913.0,275.7 913.8,277.7 914.3,278.8" stroke="#12a84c" stroke-width="1.6"/>
<polyline points="738.3,297.7 739.8,298.4 742.2,298.1 743.0,297.8 743.7,296.7 744.6,295.7 746.2,293.0 748.8,292.1 749.9,291.7 751.1,290.1 752.6,289.6 754.1,289.8 755.8,289.3 757.6,288.5 759.4,288.4 761.2,286.6 763.1,286.1 764.9,285.2 766.7,284.4 768.5,283.7 770.1,283.5 771.6,282.4 772.9,281.7 774.1,282.6 775.0,281.8 777.2,279.4 777.2,278.8 778.1,278.9 779.1,280.1 780.2,281.5 781.6,283.4 783.4,283.8 785.6,285.1 786.8,284.7 788.3,284.8 789.9,283.5 791.6,283.3 793.4,283.6 795.2,282.7 797.1,282.7 798.9,282.6 800.7,281.4 802.4,281.8 804.0,279.9 805.4,279.5 806.6,279.8 809.3,279.4 810.8,279.3 812.2,279.1 814.5,279.3 815.7,279.5 817.0,279.4 818.4,280.6 819.9,281.9 821.4,281.7 823.0,282.9 824.7,283.6 826.4,284.2 828.1,285.5 829.9,285.4 831.6,285.0 833.1,286.4 834.6,287.1 836.2,287.0 837.7,287.6 839.3,288.0 841.0,287.7 842.6,288.0 844.3,288.0 845.9,288.1 847.6,288.3 849.3,288.9 850.9,288.7 852.6,289.4 854.2,289.7 855.8,289.8 857.4,291.1 859.0,289.8 860.7,290.9 862.3,291.0 864.0,291.7 865.6,291.9 867.3,292.6 868.9,292.6 870.4,292.8 872.0,293.3 873.5,293.5 874.9,293.9 876.7,294.9 878.5,295.1 880.2,296.3 881.9,296.0 883.6,296.0 885.2,297.3 886.8,297.5 888.2,297.9 889.6,299.1 890.9,299.8 892.0,301.4 892.9,301.8 893.7,303.8 894.4,305.7 895.0,306.2 895.6,308.3 896.0,309.3 896.5,312.1 896.9,313.3 897.3,315.7 897.7,317.4 898.1,318.2 898.6,320.5 899.0,322.0 899.3,324.4 899.7,325.0 900.0,327.5 900.3,328.7 900.6,329.9 900.9,331.6 901.1,333.3 901.5,335.3 901.8,336.3 902.1,337.6 902.5,339.7 902.9,341.5 903.3,343.2 903.8,344.1 904.4,346.3 905.0,347.6 905.8,349.2 906.5,350.0 907.3,351.7 908.2,353.6 909.0,354.9 909.8,356.8 910.6,357.5 911.3,358.4 912.0,360.0 912.6,362.0 913.2,363.9 913.6,365.8 913.9,367.3 914.1,369.0 914.3,370.8 914.4,372.8 914.5,375.1 914.6,376.9 914.6,378.0 914.6,380.0 914.5,382.4 914.5,384.1 914.4,386.1 914.4,388.2 914.3,389.0 914.3,390.0 914.3,390.9 914.3,392.5" stroke="#1466c6" stroke-width="1.6"/>
<polyline points="916.0,80.3 917.0,80.4 918.4,80.3 920.1,79.0 922.0,78.9 924.1,78.2 925.6,77.5 927.2,77.9 929.0,77.1 930.8,76.5 932.6,76.4 934.3,76.2 935.9,76.1 937.3,75.4 939.4,73.8 940.8,73.6 942.2,73.4 943.9,72.8 945.2,72.9 946.6,74.0 948.1,74.9 949.6,75.5 951.3,76.6 953.1,77.1 954.6,76.6 956.3,77.1 958.0,77.3 959.8,76.2 961.6,76.4 963.3,76.3 964.8,76.0 966.2,75.5 968.3,75.5 969.8,75.0 971.2,73.3 972.8,73.6 974.7,73.2 976.8,73.6 978.8,74.6 980.6,74.7 982.1,73.8 983.4,73.2 985.9,72.7 987.0,72.5 988.3,72.8 989.8,73.8 991.4,74.8 993.1,75.4 994.8,76.0 996.6,76.6 998.3,76.7 1000.0,77.7 1001.6,77.6 1003.0,78.2 1004.8,78.8 1006.5,79.0 1008.1,78.4 1009.6,79.0 1011.2,78.1 1012.7,78.1 1014.4,78.5 1016.1,78.3 1017.8,78.2 1019.5,78.3 1021.4,78.9 1023.2,78.9 1025.1,79.5 1026.9,79.6 1028.7,79.6 1030.4,80.5 1031.9,80.4 1033.9,81.0 1035.7,81.9 1037.3,82.0 1038.9,82.5 1040.6,83.0 1042.4,82.6 1043.9,82.9 1045.5,82.5 1047.1,82.7 1048.8,82.0 1050.5,81.9 1052.2,81.6 1053.8,82.0 1055.5,81.2 1057.1,81.3 1058.8,82.1 1060.4,81.7 1062.1,82.4 1063.8,83.5 1065.4,84.0 1067.1,83.9 1068.7,84.4 1070.4,84.1 1072.1,84.2 1073.8,83.9 1075.5,84.1 1077.2,83.9 1078.8,83.8 1080.3,83.4 1081.8,83.7 1084.0,83.6 1086.2,83.7 1088.2,83.7 1089.8,84.0 1091.0,83.9" stroke="#141414" stroke-width="1.3"/>
<polyline points="916.0,144.3 917.0,143.9 918.3,144.0 919.9,143.8 921.6,143.3 923.5,143.0 925.4,142.9 927.3,142.9 929.1,142.3 930.7,142.0 932.4,141.5 934.2,141.5 935.9,141.1 937.6,140.2 939.3,139.6 940.9,139.0 942.5,140.1 943.9,139.6 945.5,139.7 946.9,139.9 948.1,140.9 949.4,142.0 951.0,142.1 953.1,142.9 954.4,142.5 955.9,142.5 957.4,142.5 959.1,142.0 960.9,142.2 962.7,142.1 964.5,141.8 966.3,142.0 968.1,141.2 969.8,140.6 971.4,141.1 972.8,140.7 974.7,140.6 976.4,140.7 978.0,139.9 979.5,141.0 981.0,140.4 982.5,140.5 984.1,140.5 985.9,140.8 987.4,140.4 989.0,141.4 990.7,141.5 992.3,141.6 994.0,141.9 995.8,142.0 997.6,142.4 999.3,143.1 1001.2,142.3 1003.0,143.1 1004.6,143.2 1006.3,143.1 1008.1,143.4 1009.9,143.2 1011.8,143.5 1013.6,143.0 1015.4,143.0 1017.1,143.0 1018.7,143.9 1020.2,143.7 1021.6,143.3 1022.7,144.0 1025.1,144.4 1026.3,145.9 1027.1,147.0 1028.0,148.3 1029.5,146.4 1031.9,145.1 1033.1,145.3 1034.6,145.2 1036.3,145.0 1038.0,145.6 1039.9,145.8 1041.7,145.7 1043.4,146.2 1045.0,146.4 1046.9,146.3 1048.6,147.6 1050.2,147.8 1051.9,148.0 1053.6,148.9 1055.5,149.0 1057.1,149.6 1058.8,150.2 1060.7,150.5 1062.5,150.4 1064.3,150.7 1066.0,151.5 1067.5,151.6 1068.7,151.8 1071.3,152.9 1072.6,154.7 1073.4,155.6 1074.1,157.3 1074.7,158.2 1075.3,160.4 1075.8,162.3 1076.1,163.9 1076.5,164.8 1077.0,168.1 1077.2,168.6 1077.5,171.0 1077.8,172.4 1078.1,174.0 1078.4,176.5 1078.7,177.6 1079.1,180.0 1079.4,181.6 1079.7,183.8 1080.0,185.0 1080.4,187.1 1080.7,188.7 1081.1,190.7 1081.4,192.1 1081.9,193.5 1082.4,195.0 1083.1,197.3 1083.6,198.5 1084.2,200.8 1084.9,201.5 1085.7,203.7 1086.5,205.3 1087.2,207.4 1088.0,209.0 1088.8,210.4 1089.5,212.3 1090.1,213.7 1090.6,215.1 1091.0,215.7" stroke="#f20c0c" stroke-width="1.4"/>
<polyline points="916.3,209.1 917.3,208.5 918.5,208.6 919.9,208.0 921.6,208.2 923.4,207.6 925.3,207.8 927.2,206.6 929.3,206.3 931.3,205.2 933.3,204.6 935.2,204.5 937.0,204.3 938.7,203.3 940.2,203.3 941.5,202.9 942.5,202.8 944.6,200.5 945.6,201.3 946.9,202.2 948.3,203.4 949.8,204.8 951.4,206.3 953.0,207.0 954.4,207.9 956.3,208.0 958.1,208.3 959.9,207.2 961.7,206.5 963.6,205.6 965.3,205.1 967.1,204.7 968.9,203.7 970.7,203.2 972.5,202.2 974.1,202.3 975.9,202.3 977.6,202.6 979.2,203.3 980.6,203.7 982.0,203.9 983.5,203.4 984.8,202.6 987.2,202.1 988.3,202.5 989.5,202.4 990.8,203.0 992.3,203.3 993.8,203.8 995.4,204.3 997.2,205.5 999.0,206.5 1000.9,206.8 1003.0,207.4 1004.4,207.4 1005.9,207.3 1007.4,207.8 1009.1,208.2 1010.8,208.7 1012.6,209.0 1014.4,209.4 1016.2,209.2 1018.0,209.8 1019.8,210.2 1021.5,210.0 1023.2,210.8 1024.9,210.4 1026.4,209.8 1027.9,211.3 1029.3,210.9 1031.5,211.3 1033.6,211.5 1035.6,212.0 1037.4,212.0 1039.0,211.6 1040.6,212.0 1042.2,212.1 1043.6,212.3 1045.0,212.7 1046.7,213.3 1048.1,214.6 1049.5,215.8 1050.7,216.0 1051.9,217.5 1053.0,218.7 1054.2,219.4 1055.4,220.5 1056.6,221.8 1057.7,223.0 1058.9,223.5 1060.0,226.0 1061.1,227.3 1062.1,228.5 1062.7,230.6 1063.2,232.0 1063.7,233.5 1064.2,235.4 1064.7,237.5 1065.2,239.3 1065.7,241.4 1066.2,243.2 1066.7,244.6 1067.2,246.7 1067.7,247.5 1068.2,248.8 1068.7,248.4 1069.3,248.3 1069.9,247.9 1070.6,246.0 1071.2,244.4 1071.9,242.1 1072.5,239.5 1073.1,237.5 1073.7,235.3 1074.3,233.4 1074.8,232.4 1075.3,231.0 1076.8,231.3 1078.0,233.2 1079.2,235.7 1081.2,235.0 1083.1,234.9 1083.7,236.3 1084.2,238.2 1084.7,240.2 1085.2,242.8 1085.8,244.4 1086.2,245.8 1086.5,247.8 1086.9,250.7 1087.3,252.3 1087.7,255.0 1088.1,256.3 1088.5,259.0 1088.9,259.5 1089.2,259.8 1089.5,259.9 1089.8,258.7 1090.0,256.6 1090.3,255.4 1090.6,253.1 1090.8,250.8 1091.1,248.3 1091.3,246.7 1091.5,244.8 1091.7,243.2 1091.8,242.0" stroke="#12a84c" stroke-width="1.4"/>
<polyline points="916.3,291.9 917.3,291.7 918.5,291.1 920.0,291.0 921.7,290.4 923.5,289.6 925.4,289.4 927.4,288.6 929.3,288.4 931.2,287.5 933.0,287.5 934.7,286.5 936.1,287.0 937.3,285.8 939.9,284.9 941.3,283.5 942.4,282.3 943.9,282.3 945.1,283.4 946.3,284.5 947.5,285.8 949.0,287.6 950.8,288.2 953.0,288.3 954.3,288.6 955.7,288.5 957.2,288.2 958.9,287.6 960.7,287.9 962.5,287.2 964.3,287.0 966.1,285.7 967.9,285.6 969.6,285.2 971.2,284.3 972.7,284.2 974.1,283.7 976.2,283.1 978.0,283.7 979.5,284.1 981.0,283.6 982.4,284.0 984.0,284.4 985.9,284.7 987.3,285.0 988.7,285.4 990.1,285.7 991.7,286.4 993.2,287.6 994.8,286.9 996.5,288.0 998.1,288.7 999.7,288.9 1001.4,289.6 1003.0,290.2 1004.7,290.4 1006.4,290.1 1008.2,290.1 1010.1,290.5 1011.9,290.7 1013.8,290.4 1015.5,290.9 1017.2,291.3 1018.8,290.8 1020.2,291.5 1021.4,291.3 1023.9,293.0 1025.6,293.7 1026.8,294.7 1028.0,294.7 1028.9,294.3 1029.4,293.0 1031.9,291.8 1033.0,291.9 1034.2,291.9 1035.7,292.2 1037.3,292.1 1039.0,293.9 1040.7,294.0 1042.6,294.2 1044.4,294.8 1046.3,295.7 1048.1,295.1 1049.8,296.0 1051.4,297.1 1052.9,297.9 1054.7,297.7 1056.5,298.1 1058.3,298.7 1060.0,299.3 1061.7,299.5 1063.3,300.5 1064.8,301.0 1066.2,302.0 1067.5,302.0 1068.7,303.7 1069.8,305.3 1070.8,306.4 1071.6,307.8 1072.3,309.2 1072.9,310.4 1073.4,312.2 1074.0,314.1 1074.6,316.0 1075.3,318.4 1075.7,319.5 1076.1,320.8 1076.5,322.2 1076.8,324.6 1077.2,325.6 1077.6,327.0 1078.0,328.9 1078.3,330.2 1078.7,331.8 1079.1,333.4 1079.5,334.9 1079.9,337.7 1080.4,338.9 1080.8,340.6 1081.3,342.6 1081.8,344.5 1082.2,345.9 1082.7,348.2 1083.2,349.3 1083.7,350.8 1084.3,352.7 1084.9,354.2 1085.4,356.8 1086.0,358.2 1086.6,360.6 1087.2,362.3 1087.8,364.3 1088.4,365.5 1088.9,367.2 1089.4,368.9 1089.9,370.2 1090.4,371.7 1090.8,372.9 1091.2,375.0 1091.5,375.3 1091.8,376.0" stroke="#1466c6" stroke-width="1.4"/>
<path d="M1104.9,68.6 C1108.17,68.83 1118.02,70 1124.5,70 C1130.98,70 1130.37,68.75 1143.8,68.6 C1157.23,68.45 1191.97,69.1 1205.1,69.1 C1218.23,69.1 1210.92,68.5 1222.6,68.6 C1234.28,68.7 1265.57,69.17 1275.2,69.7 C1284.83,70.23 1279.23,71.17 1280.4,71.8 C1281.57,72.43 1281.9,73.22 1282.2,73.5" stroke="#141414" stroke-width="1.9"/>
<path d="M1104.9,151.5 C1107.3,151.43 1116.03,150.82 1119.3,151.1 C1122.57,151.38 1122.75,153.57 1124.5,153.2 C1126.25,152.83 1126.58,150.07 1129.8,148.9 C1133.02,147.73 1137.08,146.8 1143.8,146.2 C1150.52,145.6 1164.4,145.15 1170.1,145.3 C1175.8,145.45 1175.08,147.1 1178,147.1 C1180.92,147.1 1183.08,145.73 1187.6,145.3 C1192.12,144.87 1199.85,144.63 1205.1,144.5 C1210.35,144.37 1215.88,143.63 1219.1,144.5 C1222.32,145.37 1222.78,147.22 1224.4,149.7 C1226.02,152.18 1227.63,158.67 1228.8,159.4 C1229.97,160.13 1230.1,156.45 1231.4,154.1 C1232.7,151.75 1233.68,147.05 1236.6,145.3 C1239.52,143.55 1242.47,143.88 1248.9,143.6 C1255.33,143.32 1269.95,143.02 1275.2,143.6 C1280.45,144.18 1279.23,143.6 1280.4,147.1 C1281.57,150.6 1281.9,161.68 1282.2,164.6" stroke="#f20c0c" stroke-width="2.6"/>
<path d="M1104.9,289.9 C1105.83,289.9 1108.4,290.3 1110.5,289.9 C1112.6,289.5 1115.45,289.02 1117.5,287.5 C1119.55,285.98 1120.75,283.95 1122.8,280.8 C1124.85,277.65 1127.47,271.75 1129.8,268.6 C1132.13,265.45 1134.18,264.3 1136.8,261.9 C1139.42,259.5 1142.28,256.15 1145.5,254.2 C1148.72,252.25 1152.58,251.32 1156.1,250.2 C1159.62,249.08 1162.82,248 1166.6,247.5 C1170.38,247 1173.83,247.63 1178.8,247.2 C1183.77,246.77 1191.43,244.9 1196.4,244.9 C1201.37,244.9 1204.23,247.2 1208.6,247.2 C1212.97,247.2 1219.38,244.32 1222.6,244.9 C1225.82,245.48 1226.15,249.53 1227.9,250.7 C1229.65,251.87 1231.65,252.72 1233.1,251.9 C1234.55,251.08 1234.55,247.17 1236.6,245.8 C1238.65,244.43 1241.3,243.12 1245.4,243.7 C1249.5,244.28 1256.23,247.35 1261.2,249.3 C1266.17,251.25 1272,253.5 1275.2,255.4 C1278.4,257.3 1279.23,257.63 1280.4,260.7 C1281.57,263.77 1281.9,271.62 1282.2,273.8" stroke="#12a84c" stroke-width="2.6"/>
<path d="M1104.9,340.7 C1106.42,340.5 1111.32,340.2 1114,339.5 C1116.68,338.8 1119.38,336.88 1121,336.5 C1122.62,336.12 1122.23,338.83 1123.7,337.2 C1125.17,335.57 1127.03,330.12 1129.8,326.7 C1132.57,323.28 1136.5,318.95 1140.3,316.7 C1144.1,314.45 1147.63,314.07 1152.6,313.2 C1157.57,312.33 1164.27,312.22 1170.1,311.5 C1175.93,310.78 1183.22,309.28 1187.6,308.9 C1191.98,308.52 1193.48,308.68 1196.4,309.2 C1199.32,309.72 1201.32,311.82 1205.1,312 C1208.88,312.18 1215.88,308.48 1219.1,310.3 C1222.32,312.12 1222.85,316.13 1224.4,322.9 C1225.95,329.67 1227.23,348.87 1228.4,350.9 C1229.57,352.93 1230.32,340.35 1231.4,335.1 C1232.48,329.85 1232.57,323.33 1234.9,319.4 C1237.23,315.47 1241.02,312.03 1245.4,311.5 C1249.78,310.97 1256.23,315.47 1261.2,316.2 C1266.17,316.93 1272,315.37 1275.2,315.9 C1278.4,316.43 1279.23,315.62 1280.4,319.4 C1281.57,323.18 1281.9,335.4 1282.2,338.6" stroke="#1466c6" stroke-width="2.6"/>
<path d="M1283.4,70.4 C1286.32,70.57 1294.33,71.52 1300.9,71.4 C1307.47,71.28 1314.77,70.08 1322.8,69.7 C1330.83,69.32 1338.88,68.98 1349.1,69.1 C1359.32,69.22 1372.42,70.3 1384.1,70.4 C1395.78,70.5 1407.52,69.82 1419.2,69.7 C1430.88,69.58 1447.5,69.35 1454.2,69.7 C1460.9,70.05 1458.23,71.32 1459.4,71.8 C1460.57,72.28 1460.9,72.47 1461.2,72.6" stroke="#141414" stroke-width="2.6"/>
<path d="M1283.4,166.4 C1285.58,165.87 1293.58,163.5 1296.5,163.2 C1299.42,162.9 1299.15,165.53 1300.9,164.6 C1302.65,163.67 1303.35,159.93 1307,157.6 C1310.65,155.27 1317.25,152.2 1322.8,150.6 C1328.35,149 1335.05,148.28 1340.3,148 C1345.55,147.72 1349.92,149.1 1354.3,148.9 C1358.68,148.7 1359.3,147.15 1366.6,146.8 C1373.9,146.45 1391.97,145.58 1398.1,146.8 C1404.23,148.02 1401.7,150.25 1403.4,154.1 C1405.1,157.95 1406.85,169.75 1408.3,169.9 C1409.75,170.05 1410.58,158.85 1412.1,155 C1413.62,151.15 1413.3,148.55 1417.4,146.8 C1421.5,145.05 1430.57,144.8 1436.7,144.5 C1442.83,144.2 1450.27,144.42 1454.2,145 C1458.13,145.58 1459.28,147.5 1460.3,148" stroke="#f20c0c" stroke-width="2.6"/>
<path d="M1283.4,261.9 C1285.3,261.78 1291.73,261.98 1294.8,261.2 C1297.87,260.42 1299.47,259.33 1301.8,257.2 C1304.13,255.07 1305.3,250.95 1308.8,248.4 C1312.3,245.85 1316.08,243.35 1322.8,241.9 C1329.52,240.45 1343.55,239.78 1349.1,239.7 C1354.65,239.62 1353.18,241.5 1356.1,241.4 C1359.02,241.3 1361.93,239.3 1366.6,239.1 C1371.27,238.9 1378.27,240.1 1384.1,240.2 C1389.93,240.3 1398.1,239.07 1401.6,239.7 C1405.1,240.33 1403.93,239.33 1405.1,244 C1406.27,248.67 1407.43,266.67 1408.6,267.7 C1409.77,268.73 1410.63,254.73 1412.1,250.2 C1413.57,245.67 1414.77,242.4 1417.4,240.5 C1420.03,238.6 1423.23,238.57 1427.9,238.8 C1432.57,239.03 1440.15,241.17 1445.4,241.9 C1450.65,242.63 1456.77,242.7 1459.4,243.2 C1462.03,243.7 1460.9,244.62 1461.2,244.9" stroke="#12a84c" stroke-width="2.6"/>
<path d="M1283.4,325.7 C1285.58,325.28 1293.58,323.15 1296.5,323.2 C1299.42,323.25 1298.85,327.08 1300.9,326 C1302.95,324.92 1305.15,318.62 1308.8,316.7 C1312.45,314.78 1316.67,314.5 1322.8,314.5 C1328.93,314.5 1340.05,315.65 1345.6,316.7 C1351.15,317.75 1352.6,320.5 1356.1,320.8 C1359.6,321.1 1361.93,318.8 1366.6,318.5 C1371.27,318.2 1378.55,318.62 1384.1,319 C1389.65,319.38 1396.4,318.98 1399.9,320.8 C1403.4,322.62 1403.7,324 1405.1,329.9 C1406.5,335.8 1407.27,356.2 1408.3,356.2 C1409.33,356.2 1409.78,335.75 1411.3,329.9 C1412.82,324.05 1413.17,322.27 1417.4,321.1 C1421.63,319.93 1431.15,322.02 1436.7,322.9 C1442.25,323.78 1446.62,324.37 1450.7,326.4 C1454.78,328.43 1459.45,333.65 1461.2,335.1" stroke="#1466c6" stroke-width="2.6"/>
<path d="M1462.4,69.7 C1467.5,69.52 1482.05,68.98 1493,68.6 C1503.95,68.22 1518.75,67.52 1528.1,67.4 C1537.45,67.28 1544.72,67.62 1549.1,67.9 C1553.48,68.18 1552.65,69.1 1554.4,69.1 C1556.15,69.1 1555.23,68.1 1559.6,67.9 C1563.97,67.7 1575.93,67.83 1580.6,67.9 C1585.27,67.97 1584.67,68.47 1587.6,68.3 C1590.53,68.13 1592.07,67.25 1598.2,66.9 C1604.33,66.55 1618.57,66.12 1624.4,66.2 C1630.23,66.28 1630.87,67.2 1633.2,67.4 C1635.53,67.6 1637.53,67.4 1638.4,67.4" stroke="#141414" stroke-width="1.9"/>
<path d="M1462.4,142.7 C1464.58,142.32 1468.93,140.98 1475.5,140.4 C1482.07,139.82 1493.92,139.25 1501.8,139.2 C1509.68,139.15 1515.5,140.1 1522.8,140.1 C1530.1,140.1 1537.72,139.05 1545.6,139.2 C1553.48,139.35 1565.13,139.98 1570.1,141 C1575.07,142.02 1573.65,141.37 1575.4,145.3 C1577.15,149.23 1579.28,157.58 1580.6,164.6 C1581.92,171.62 1582.42,180.25 1583.3,187.4 C1584.18,194.55 1585.18,207.5 1585.9,207.5 C1586.62,207.5 1587.08,195.72 1587.6,187.4 C1588.12,179.08 1588.27,163.15 1589,157.6 C1589.73,152.05 1590.77,156.43 1592,154.1 C1593.23,151.77 1593.92,145.78 1596.4,143.6 C1598.88,141.42 1599.9,141.53 1606.9,141 C1613.9,140.47 1633.15,140.5 1638.4,140.4" stroke="#f20c0c" stroke-width="2.9"/>
<path d="M1462.4,259.8 C1463.42,258.48 1465.73,254.67 1468.5,251.9 C1471.27,249.13 1474.92,245.92 1479,243.2 C1483.08,240.48 1488.9,236.68 1493,235.6 C1497.1,234.52 1499.5,237.4 1503.6,236.7 C1507.7,236 1511.18,232.8 1517.6,231.4 C1524.02,230 1536.27,228.53 1542.1,228.3 C1547.93,228.07 1549.1,229.13 1552.6,230 C1556.1,230.87 1559.3,233.65 1563.1,233.5 C1566.9,233.35 1572.18,229.62 1575.4,229.1 C1578.62,228.58 1580.37,229.08 1582.4,230.4 C1584.43,231.72 1585.85,233.42 1587.6,237 C1589.35,240.58 1591.43,250.73 1592.9,251.9 C1594.37,253.07 1594.93,247.07 1596.4,244 C1597.87,240.93 1599.07,235.68 1601.7,233.5 C1604.33,231.32 1609.28,230.55 1612.2,230.9 C1615.12,231.25 1616.28,234.28 1619.2,235.6 C1622.12,236.92 1626.5,238.62 1629.7,238.8 C1632.9,238.98 1636.95,237.05 1638.4,236.7" stroke="#12a84c" stroke-width="2.6"/>
<path d="M1462.4,319.7 C1464.58,319.35 1466.6,318.18 1475.5,317.6 C1484.4,317.02 1508.2,316.25 1515.8,316.2 C1523.4,316.15 1516.13,317.7 1521.1,317.3 C1526.07,316.9 1536.85,314.33 1545.6,313.8 C1554.35,313.27 1568.05,312.88 1573.6,314.1 C1579.15,315.32 1577.28,314.67 1578.9,321.1 C1580.52,327.53 1582.13,344.23 1583.3,352.7 C1584.47,361.17 1585.03,371.9 1585.9,371.9 C1586.77,371.9 1587.77,360.87 1588.5,352.7 C1589.23,344.53 1589.42,328.6 1590.3,322.9 C1591.18,317.2 1591.9,320.12 1593.8,318.5 C1595.7,316.88 1594.27,314.17 1601.7,313.2 C1609.13,312.23 1632.28,312.78 1638.4,312.7" stroke="#1466c6" stroke-width="2.7"/>
<polyline points="267.9,528.0 269.0,528.2 270.4,527.8 272.2,527.6 274.1,528.4 276.2,527.6 278.3,528.2 280.5,528.7 282.1,527.7 283.7,528.3 285.4,528.6 287.1,528.8 288.9,528.9 290.8,528.9 292.6,528.0 294.4,528.4 296.2,529.0 298.0,528.3 299.6,528.8 301.2,528.0 302.8,528.1 304.4,527.9 306.0,528.0 307.6,526.5 309.2,527.4 310.8,526.3 312.4,526.7 314.0,526.3 315.6,526.4 317.4,525.4 319.1,525.6 320.9,525.5 322.6,525.0 324.4,524.7 326.1,524.1 327.9,524.6 329.6,524.9 331.4,524.3 333.1,524.5 334.9,524.3 336.6,523.9 338.3,524.0 340.1,524.7 341.9,523.9 343.6,524.0 345.3,524.6 347.1,524.1 348.9,523.7 350.6,524.8 352.3,524.5 353.9,524.6 355.4,524.2 356.9,524.2 358.5,524.6 360.1,524.9 361.8,524.5 363.7,525.0 365.8,524.8 368.1,525.2 369.5,524.3 371.0,525.1 372.6,524.9 374.3,524.8 376.0,524.0 377.9,524.6 379.8,524.5 381.7,524.5 383.6,525.1 385.5,524.9 387.4,525.0 389.3,524.8 391.1,524.8 392.8,524.0 394.4,524.3 395.9,523.8 397.3,524.9 398.6,524.6 399.7,524.9 403.1,524.1 404.5,525.6 405.3,526.7 406.7,526.8 408.2,527.3 409.9,526.2 411.6,525.9 413.4,525.5 415.3,526.2 417.2,526.5 418.9,525.5 420.6,525.7 422.4,524.1 424.2,524.7 426.0,524.2 427.7,524.4 429.4,522.4 431.3,523.8 433.3,523.1 435.1,523.1 436.9,522.9 438.5,523.3 439.9,523.0 442.8,523.6 444.3,524.5" stroke="#141414" stroke-width="1.8"/>
<polyline points="267.9,609.0 268.8,609.1 269.9,609.3 271.1,608.8 272.5,608.6 273.9,608.9 275.5,609.1 277.2,609.2 278.9,609.0 280.8,609.0 282.6,608.6 284.5,608.7 286.5,608.4 288.4,608.9 290.4,608.0 292.3,608.5 294.3,608.6 296.2,608.3 298.0,608.0 299.6,607.7 301.1,608.9 302.8,608.2 304.4,607.9 306.0,608.3 307.7,608.1 309.3,608.3 311.0,608.0 312.7,607.4 314.4,607.6 316.1,607.4 317.8,607.9 319.5,607.4 321.2,607.0 322.9,607.1 324.6,607.2 326.3,606.6 328.0,607.2 329.7,606.8 331.4,607.0 333.1,606.8 334.8,606.9 336.5,606.5 338.1,607.7 339.8,606.7 341.5,607.1 343.2,607.3 344.9,607.2 346.6,607.2 348.3,607.4 350.0,607.9 351.7,608.4 353.3,607.5 355.0,608.2 356.7,608.1 358.4,607.8 360.0,608.2 361.6,608.1 363.3,608.0 364.9,608.7 366.5,608.2 368.1,608.5 369.9,608.3 371.7,608.2 373.5,608.0 375.4,607.9 377.3,608.0 379.2,608.4 381.0,608.3 382.9,607.9 384.7,607.8 386.5,607.6 388.3,607.4 390.0,607.5 391.7,607.4 393.2,607.7 394.7,607.2 396.1,607.5 397.4,607.0 398.6,606.7 399.7,607.2 403.0,607.4 404.3,608.0 405.0,609.0 406.7,608.8 408.2,609.0 409.8,608.8 411.7,608.9 413.6,608.8 415.5,608.1 417.4,607.9 419.2,607.9 420.7,607.9 422.8,606.8 424.6,606.2 426.2,606.6 427.7,605.8 429.4,605.5 431.2,604.4 433.0,603.8 434.9,604.2 436.6,604.1 438.2,604.4 440.7,604.9 442.8,604.8 444.3,606.0" stroke="#f20c0c" stroke-width="1.8"/>
<polyline points="267.9,696.5 268.9,696.8 270.3,696.3 271.9,696.0 273.7,695.7 275.6,696.8 277.6,695.6 279.7,695.5 281.7,695.8 283.7,696.1 285.5,695.7 287.2,695.0 288.6,695.8 290.9,695.5 292.6,696.2 294.1,696.6 295.5,697.7 296.9,698.2 298.5,698.5 300.1,698.8 301.8,698.1 303.5,697.5 305.3,695.9 307.0,697.4 308.7,695.5 310.3,695.3 312.0,696.7 313.6,696.0 315.1,696.6 316.7,698.4 318.3,699.0 320.2,699.0 321.6,699.5 323.0,699.8 324.5,700.9 326.1,701.2 327.7,702.3 329.3,702.7 330.9,703.6 332.4,703.9 334.0,704.5 335.5,704.6 337.1,705.9 338.6,706.9 340.1,706.7 341.7,708.8 343.2,708.6 344.7,710.5 346.3,710.8 347.8,711.3 349.4,712.2 351.0,713.2 352.6,714.5 354.2,712.8 355.8,714.8 357.4,714.5 358.9,715.6 360.3,715.2 361.6,716.0 363.7,716.6 365.6,717.9 367.3,718.8 368.9,717.4 370.5,718.8 372.3,718.5 374.0,718.5 375.7,717.8 377.4,716.8 378.6,717.0 379.8,715.1 381.0,714.6 382.3,713.4 383.7,713.2 385.3,711.8 386.8,710.8 388.4,710.1 390.1,709.4 391.8,708.6 393.6,708.7 395.4,708.1 397.1,706.2 398.8,706.3 400.5,706.6 402.2,706.2 403.9,706.0 405.6,705.8 407.3,705.9 409.0,704.6 410.7,704.7 412.4,704.8 414.1,703.1 415.7,703.1 417.4,701.4 419.1,701.1 420.8,700.2 422.3,699.1 423.8,699.2 425.3,698.1 426.8,697.3 428.2,696.3 429.7,695.5 431.2,695.4 432.6,694.3 434.6,694.5 436.7,693.4 438.8,693.4 440.7,693.0 442.3,692.3 443.5,692.0" stroke="#12a84c" stroke-width="1.8"/>
<polyline points="267.9,789.8 268.9,790.1 270.3,789.2 271.9,789.0 273.7,789.2 275.6,788.6 277.6,789.0 279.7,789.3 281.7,787.9 283.7,789.0 285.5,788.4 287.2,788.2 288.6,788.7 290.9,788.6 292.7,788.9 294.2,789.7 295.6,790.2 297.0,791.0 298.5,790.5 300.1,790.0 301.7,789.8 303.3,790.1 305.0,789.1 306.6,788.8 308.4,788.0 310.0,789.0 311.6,788.6 313.2,789.1 314.9,788.8 316.6,790.3 318.4,791.2 320.2,791.4 321.5,792.6 322.9,793.9 324.3,795.1 325.7,794.8 327.1,796.5 328.5,797.8 329.9,798.5 331.3,799.8 332.7,800.2 334.0,801.6 335.6,802.2 337.1,803.2 338.6,804.0 340.0,805.5 341.5,806.3 342.9,806.5 344.3,807.7 345.8,808.5 347.5,808.9 349.2,810.4 350.9,810.9 352.6,810.4 354.3,811.5 356.0,811.9 357.7,812.3 359.2,814.1 360.7,815.0 362.3,815.7 363.9,817.3 365.4,817.6 366.8,818.4 368.2,818.6 369.5,819.8 371.3,820.3 372.9,819.8 374.4,818.9 375.9,818.4 377.4,817.3 378.7,817.2 379.9,815.9 381.1,813.9 382.4,813.2 383.8,811.2 385.3,809.9 386.6,809.0 388.0,808.3 389.4,807.6 390.9,806.5 392.5,805.1 394.1,805.3 395.6,804.0 397.1,803.3 398.8,802.3 400.5,802.1 402.2,802.0 403.9,802.2 405.6,801.6 407.3,800.7 409.0,800.3 410.5,799.2 411.9,799.4 413.3,798.2 414.8,796.9 416.2,797.2 417.7,795.6 419.2,794.7 420.8,793.3 422.3,792.8 423.8,792.8 425.4,791.5 427.1,789.6 428.7,790.2 430.3,788.6 431.8,787.1 433.3,786.9 434.6,785.9 436.8,785.6 438.9,785.1 440.8,784.4 442.4,784.9 443.5,784.3" stroke="#1466c6" stroke-width="1.8"/>
<polyline points="444.9,524.2 445.9,523.9 447.2,524.2 448.6,524.3 450.3,524.6 452.1,524.5 454.0,524.3 456.0,524.3 458.0,524.1 460.0,524.2 461.9,524.0 463.8,525.1 465.3,524.2 466.9,525.2 468.4,524.4 469.9,524.0 471.5,524.7 473.0,523.8 474.6,524.2 476.2,523.7 477.9,523.4 479.5,523.4 481.3,523.4 483.0,522.7 484.8,523.2 486.3,523.4 487.8,523.2 489.4,522.0 491.0,522.4 492.6,522.5 494.3,522.0 495.9,521.7 497.6,521.4 499.3,521.7 501.0,520.9 502.7,520.7 504.4,520.6 506.1,520.2 507.8,520.5 509.4,520.1 511.1,520.6 512.7,519.5 514.4,520.0 516.0,519.7 517.7,520.1 519.3,520.2 521.0,519.6 522.6,520.3 524.3,519.6 525.9,520.4 527.5,520.0 529.2,520.5 530.8,520.3 532.5,520.6 534.1,520.8 535.8,520.2 537.4,520.4 539.1,520.6 540.8,520.6 542.5,520.5 544.2,520.8 546.0,521.5 547.8,521.2 549.5,520.9 551.3,520.7 553.0,521.1 554.7,521.2 556.3,520.8 557.9,520.9 559.4,521.6 560.9,521.0 562.3,520.6 563.6,520.8 566.0,521.2 568.1,520.9 570.0,520.3 571.8,520.0 573.4,519.6 574.9,519.8 576.3,519.7 577.6,519.6 579.8,520.5 581.4,520.3 582.8,520.9 584.7,521.7 586.2,521.4 587.9,521.5 589.6,521.6 591.4,520.8 593.3,520.4 595.2,519.8 596.9,519.4 598.7,519.2 600.5,518.7 602.3,518.3 604.1,517.6 605.8,517.8 607.4,517.3 609.5,516.7 611.4,516.1 613.2,516.0 614.8,516.3 616.2,515.8 618.3,516.7 619.7,518.0 620.5,519.7 621.2,521.7 621.9,523.5 622.3,524.5" stroke="#141414" stroke-width="1.8"/>
<polyline points="444.9,607.7 445.8,607.7 446.9,608.2 448.1,608.2 449.6,607.6 451.1,607.4 452.7,607.0 454.5,608.0 456.3,607.2 458.1,608.0 460.0,608.1 461.8,608.2 463.7,607.8 465.5,607.9 467.3,607.6 468.9,607.4 470.5,607.4 472.2,607.5 473.9,607.6 475.6,606.9 477.4,606.2 479.2,606.5 481.0,606.4 482.7,606.7 484.5,605.8 486.2,606.0 487.8,605.6 489.4,605.8 490.9,605.5 492.3,605.7 493.6,605.1 496.0,605.6 498.0,605.2 499.8,606.0 501.5,606.0 503.0,605.9 504.5,605.5 506.0,606.5 507.6,606.9 509.3,607.3 510.8,606.8 512.2,607.7 513.7,607.5 515.3,608.0 517.3,609.1 519.8,608.7 521.1,609.0 522.5,608.6 524.1,609.6 525.8,609.8 527.5,609.5 529.3,610.3 531.2,609.7 533.1,610.8 534.9,610.3 536.8,610.3 538.6,610.9 540.3,610.5 541.9,611.3 543.5,611.0 544.9,610.9 546.1,611.0 548.7,611.5 550.6,611.7 552.0,611.1 553.3,611.6 554.7,611.2 556.6,611.3 558.1,611.2 559.8,610.8 561.6,610.3 563.5,610.3 565.3,609.9 567.2,609.9 569.0,609.2 570.8,609.0 572.4,608.9 574.3,608.6 576.1,609.1 577.8,609.2 579.5,609.0 581.2,608.6 582.9,608.5 584.7,608.4 586.2,608.1 587.7,607.3 589.3,607.7 590.9,606.6 592.5,605.7 594.1,606.5 595.7,605.5 597.2,605.2 598.7,605.1 600.6,604.8 602.5,603.8 604.4,602.8 606.2,602.0 608.0,602.3 609.5,601.7 610.9,601.7 613.1,600.5 614.6,600.8 616.2,601.1 617.5,601.6 618.9,602.4 620.3,604.7 621.5,605.7 622.3,606.9" stroke="#f20c0c" stroke-width="1.8"/>
<polyline points="445.3,701.8 446.2,701.9 447.4,701.5 448.7,701.7 450.2,701.8 451.8,701.7 453.5,701.5 455.3,701.3 457.2,701.6 459.2,702.0 461.2,701.4 463.1,701.3 465.1,701.4 467.0,701.4 468.9,701.7 470.7,701.3 472.3,701.4 473.9,701.2 475.3,701.3 476.5,701.6 479.2,701.3 481.4,701.5 483.1,701.7 484.5,701.7 485.8,702.0 487.0,702.4 488.3,702.5 490.1,703.1 491.6,703.6 493.1,703.9 494.6,705.7 496.2,707.0 497.1,708.0 498.1,708.9 499.0,711.0 500.0,712.0 501.0,713.7 502.0,714.9 503.1,716.9 504.1,718.6 505.1,719.8 506.1,720.8 507.0,722.5 507.9,724.0 508.8,725.1 509.7,726.5 510.6,727.9 511.5,729.4 512.4,731.0 513.3,732.4 514.2,733.9 515.1,735.7 516.0,737.0 516.8,738.4 517.6,740.3 518.5,741.6 519.3,742.8 520.1,745.1 520.9,746.4 521.7,747.6 522.5,749.3 523.3,750.6 524.2,752.1 525.0,753.5 525.8,754.1 526.9,756.5 528.0,757.8 529.2,758.9 530.3,760.3 531.4,761.2 532.5,762.0 533.6,763.7 534.7,764.1 535.7,765.5 536.8,766.9 537.8,768.1 538.9,770.0 539.8,771.4 540.8,772.5 541.7,773.7 542.7,774.8 543.6,776.2 544.8,778.6 546.0,779.9 547.2,781.6 548.4,782.9 549.5,784.5 550.5,784.9 552.2,786.2 553.8,785.7 555.4,785.0 556.3,784.2 557.1,783.1 558.0,781.6 559.0,780.1 560.1,778.4 561.3,776.1 562.1,775.1 563.0,773.8 563.9,772.5 564.9,771.2 565.9,769.3 566.9,768.3 568.0,766.8 569.0,765.3 570.1,763.9 571.2,762.6 572.4,760.9 573.7,760.5 574.9,759.2 576.2,758.3 577.5,757.6 578.8,756.5 580.2,755.6 581.6,754.0 583.0,752.6 583.9,751.5 584.9,750.3 585.8,749.3 586.8,747.9 587.8,746.7 588.8,744.4 589.8,743.9 590.8,742.3 591.8,741.0 592.8,738.9 593.8,738.4 594.8,736.8 595.8,735.5 596.8,734.4 597.9,732.4 599.0,731.0 600.1,730.4 601.2,728.2 602.4,727.5 603.5,725.7 604.6,725.0 605.7,723.9 606.8,722.0 607.8,721.4 608.8,719.7 609.7,719.3 610.6,717.7 612.6,716.1 614.4,715.2 616.0,714.0 617.3,713.5 618.5,713.2 621.5,712.9" stroke="#12a84c" stroke-width="1.8"/>
<polyline points="445.3,795.7 446.3,795.6 447.4,796.1 448.7,795.4 450.2,795.5 451.8,795.1 453.6,795.1 455.4,794.9 457.3,795.0 459.2,794.7 461.2,795.4 463.2,795.1 465.1,794.7 467.0,794.3 468.9,794.3 470.6,793.9 472.2,793.8 473.9,793.6 475.5,793.4 477.3,793.6 479.0,793.1 480.7,792.4 482.4,792.9 484.1,792.8 485.8,792.3 487.5,791.8 489.1,792.4 490.6,792.5 492.1,792.3 493.6,792.3 494.9,792.1 496.2,791.9 498.2,792.5 500.0,792.9 501.6,792.9 503.0,793.9 504.4,794.8 505.7,794.9 507.0,796.1 508.4,796.9 510.0,797.4 511.5,797.3 513.1,798.7 514.7,798.3 516.4,799.2 518.1,799.5 519.7,800.1 521.4,800.3 522.9,801.0 524.4,801.4 525.8,801.4 528.0,801.7 530.1,802.3 532.1,803.0 533.8,803.2 535.4,803.7 536.7,804.1 537.6,802.4 539.6,801.8 540.7,802.1 541.9,801.7 543.3,801.5 544.9,801.0 546.6,800.8 548.4,800.8 550.2,800.6 552.1,799.7 554.0,800.3 555.8,798.7 557.6,799.7 559.3,799.1 561.0,798.6 562.7,798.7 564.5,798.0 566.3,798.0 568.0,798.2 569.8,797.2 571.6,797.1 573.2,796.8 574.9,796.4 576.4,796.5 577.8,795.8 579.1,796.2 581.3,795.4 583.0,795.2 584.4,794.8 585.7,795.7 587.2,795.7 588.9,794.9 590.3,793.8 591.7,793.4 593.2,793.0 594.8,792.1 596.3,791.6 598.0,790.7 599.6,790.1 601.1,788.7 602.7,787.9 604.3,787.3 605.9,786.8 607.6,786.2 609.3,785.7 611.0,785.1 612.6,784.3 614.0,784.3 615.4,783.0 616.5,783.5 619.0,784.2 620.5,785.3 621.5,786.2" stroke="#1466c6" stroke-width="1.8"/>
<polyline points="622.9,521.0 623.8,520.7 625.0,521.2 626.5,521.4 628.1,521.0 629.8,520.8 631.7,520.7 633.6,521.5 635.5,522.0 637.4,521.8 639.2,521.5 641.0,521.7 642.6,522.3 644.1,521.5 645.3,522.0 647.9,521.8 649.7,521.5 651.0,520.6 652.4,520.5 654.0,520.7 655.6,520.2 657.2,521.2 658.8,522.3 660.5,521.9 662.4,521.7 664.5,522.4 665.9,522.8 667.3,522.4 668.8,522.0 670.4,522.1 672.0,521.2 673.6,521.0 675.3,520.1 676.9,520.0 678.6,519.0 680.3,519.8 681.9,519.1 683.6,519.7 685.1,519.6 686.8,518.4 688.4,518.7 690.1,518.1 691.8,518.8 693.7,518.8 695.7,518.5 697.8,517.8 699.2,518.0 700.6,518.3 702.1,518.2 703.5,518.0 705.1,518.1 706.6,518.5 708.2,517.6 709.8,518.1 711.5,518.1 713.2,518.4 714.9,517.2 716.7,518.1 718.5,517.3 720.3,517.7 722.2,517.9 724.1,517.5 725.6,517.7 727.2,517.5 728.9,517.6 730.6,517.3 732.3,516.9 734.2,516.7 736.0,516.1 737.9,516.9 739.7,517.3 741.6,516.6 743.5,516.3 745.3,517.4 747.1,516.3 748.9,517.1 750.6,516.7 752.2,517.0 753.8,516.5 755.3,516.8 756.7,516.5 758.0,515.7 759.2,516.7 762.1,517.5 764.3,516.9 765.9,517.6 767.2,518.0 768.5,519.1 769.8,517.9 771.4,519.3 773.1,519.0 774.8,519.1 776.5,519.0 778.3,518.2 780.1,517.8 781.9,517.9 783.6,517.9 785.4,516.3 787.3,517.0 789.2,517.2 791.3,517.1 793.3,516.4 795.2,515.4 797.0,516.0 798.4,514.6 799.5,514.9" stroke="#141414" stroke-width="1.8"/>
<polyline points="622.9,603.0 623.8,603.3 624.9,602.9 626.1,603.5 627.5,602.8 629.0,602.7 630.6,603.2 632.3,603.0 634.0,603.3 635.9,603.3 637.7,603.6 639.6,602.9 641.6,602.9 643.5,603.5 645.4,603.8 647.2,603.4 649.0,603.6 650.8,603.1 652.4,603.6 654.0,603.2 655.8,602.8 657.6,602.8 659.4,602.8 661.1,602.8 662.9,603.0 664.6,602.6 666.3,602.2 668.0,602.3 669.7,602.0 671.3,602.3 672.9,601.8 674.5,602.1 676.0,602.0 677.5,601.3 678.9,601.6 680.3,601.1 682.4,601.5 684.2,601.2 685.9,602.2 687.5,602.0 689.0,601.8 690.6,602.1 692.2,602.4 693.9,602.5 695.7,602.8 697.8,602.6 699.2,603.3 700.7,603.2 702.3,603.9 704.0,604.0 705.7,603.9 707.4,604.4 709.2,604.2 710.9,604.1 712.7,604.8 714.5,604.7 716.2,605.4 717.9,605.3 719.6,606.1 721.2,605.9 722.7,605.7 724.1,606.3 726.2,606.2 728.0,605.8 729.7,607.2 731.3,606.7 732.9,606.3 734.4,606.8 736.0,606.7 737.7,606.6 739.5,606.7 741.6,606.4 743.0,606.3 744.5,605.8 746.1,606.2 747.8,606.3 749.5,605.9 751.2,605.5 753.0,605.8 754.8,605.8 756.5,605.2 758.3,605.1 760.0,605.1 761.7,604.5 763.4,604.6 765.0,604.0 766.5,604.1 767.9,603.4 769.8,603.4 771.7,602.9 773.4,603.3 775.1,603.0 776.6,602.5 778.2,602.1 779.7,602.1 781.1,601.8 782.5,600.5 784.0,600.2 785.4,600.2 787.2,599.6 789.0,599.7 790.9,598.8 792.7,598.1 794.4,597.5 796.0,597.3 797.4,596.7 798.6,596.7 799.5,596.3" stroke="#f20c0c" stroke-width="1.8"/>
<polyline points="623.3,694.5 624.3,693.8 625.5,695.2 627.0,693.8 628.6,694.0 630.4,694.6 632.3,695.2 634.2,695.2 636.1,695.8 637.9,695.1 639.7,694.1 641.3,695.0 642.7,696.2 644.8,696.0 646.7,694.6 648.5,693.9 650.1,693.5 651.6,693.5 653.1,693.3 654.5,693.2 656.3,694.2 657.8,695.3 659.1,694.6 660.6,696.1 662.4,696.4 663.9,695.5 665.5,696.4 667.3,695.6 669.1,694.8 670.9,694.8 672.6,693.7 674.2,694.1 675.9,694.0 677.5,695.0 679.0,695.7 680.6,696.0 682.2,697.4 684.1,698.1 685.6,698.1 687.2,698.1 688.9,698.8 690.6,698.2 692.4,698.8 694.2,700.0 696.1,700.4 697.9,701.3 699.4,699.8 700.9,700.1 702.5,702.7 704.1,701.7 705.7,702.4 707.3,702.3 708.9,703.2 710.5,702.6 712.1,702.3 713.7,702.2 715.5,704.3 717.2,704.2 719.0,704.2 720.7,705.4 722.5,704.4 724.2,705.2 726.0,705.7 727.7,706.0 729.5,705.5 731.0,706.1 732.5,706.0 734.0,705.5 735.4,705.9 736.9,704.2 738.3,704.1 739.9,703.4 741.5,702.7 743.3,703.0 745.2,703.3 746.6,701.4 748.0,702.0 749.5,701.3 751.1,702.4 752.7,702.5 754.4,701.7 756.1,701.0 757.8,700.1 759.5,699.7 761.1,700.0 762.8,699.5 764.4,698.9 766.0,699.8 767.5,698.7 768.9,698.1 770.8,698.8 772.6,697.6 774.3,697.0 776.0,697.4 777.7,695.9 779.3,695.5 780.8,693.8 782.4,693.6 783.8,693.1 785.3,693.5 786.7,693.3 788.6,692.8 790.6,690.6 792.4,690.1 794.2,688.8 795.9,688.2 797.3,687.5 798.5,686.7 799.5,686.6" stroke="#12a84c" stroke-width="1.8"/>
<polyline points="623.3,789.8 624.2,789.7 625.3,789.4 626.6,789.7 628.0,789.9 629.6,790.5 631.2,789.9 633.0,789.6 634.8,789.8 636.7,789.3 638.6,789.6 640.6,789.3 642.6,789.9 644.6,789.2 646.5,789.7 648.5,789.1 650.3,789.5 652.2,789.5 653.9,788.9 655.5,789.4 657.0,788.8 658.4,789.0 660.6,789.3 662.6,789.0 664.4,788.7 666.1,788.8 667.7,788.2 669.3,788.3 670.7,787.9 672.2,788.5 673.6,787.9 675.1,787.8 676.6,787.7 678.2,788.4 679.9,788.0 681.6,788.2 683.3,788.5 685.0,789.0 686.7,788.9 688.4,788.9 690.1,790.0 691.8,789.7 693.4,790.6 695.0,790.9 696.5,791.4 697.9,792.6 699.7,792.2 701.4,792.1 703.1,793.1 704.7,794.5 706.2,794.8 707.6,795.0 709.0,796.2 710.4,796.9 711.7,797.0 713.5,797.6 715.1,798.1 716.5,798.9 718.0,799.7 719.7,800.0 721.6,799.8 723.1,799.7 724.6,799.3 726.3,799.4 728.0,799.3 729.7,798.6 731.5,798.1 733.4,797.9 735.3,797.3 737.3,797.0 738.8,796.9 740.4,796.1 742.0,796.3 743.6,795.7 745.3,796.0 747.0,795.3 748.6,794.9 750.4,794.6 752.1,794.6 753.8,793.4 755.4,793.7 757.1,793.6 758.7,793.4 760.4,793.4 762.0,793.1 763.6,793.1 765.2,793.2 766.8,793.1 768.4,792.7 770.0,792.4 771.7,793.0 773.3,792.4 775.1,792.6 776.8,792.4 778.4,792.1 780.1,791.6 781.9,790.4 783.7,790.2 785.6,789.9 787.5,790.0 789.4,789.2 791.2,788.3 792.9,787.8 794.6,787.7 796.1,786.9 797.4,787.3 798.6,786.2 799.5,786.2" stroke="#1466c6" stroke-width="1.8"/>
<polyline points="818.9,524.6 820.3,524.6 821.7,524.6 823.1,524.6 824.6,524.0 826.0,524.5 827.4,524.5 828.8,524.5 830.2,524.8 831.6,524.4 833.0,524.4 834.5,524.4 835.9,524.7 837.3,524.4 838.7,524.4 840.1,524.4 841.5,524.5 842.9,524.3 844.3,524.3 845.8,524.3 847.2,524.3 848.6,524.3 850.0,524.3 851.4,524.3 852.8,524.0 854.2,524.3 855.6,524.4 857.0,524.4 858.4,524.5 859.8,524.6 861.2,524.7 862.6,524.8 864.0,524.6 865.4,525.1 866.9,526.0 867.7,527.0 869.2,527.1 870.3,526.1 871.8,525.5 873.2,525.1 874.6,524.8 876.1,524.5 877.5,524.2 878.9,523.9 880.3,523.6 881.7,523.4 883.2,523.2 884.6,523.0 886.0,522.9 887.4,522.8 888.8,522.7 890.3,522.6 891.7,522.5 893.1,522.5 894.5,522.5 895.9,522.8 897.3,523.2 898.7,523.4 900.2,523.3 901.6,522.9 903.0,522.3 904.4,521.7 905.8,521.2 907.2,520.8 908.6,521.0 910.1,521.6 911.6,521.6 913.0,521.4 914.4,521.2 915.8,521.0 917.2,520.7 918.6,520.5 920.0,520.4 921.4,520.3 922.8,520.3 924.2,520.3 925.6,520.6 927.0,521.0 928.5,522.0 928.9,525.3 929.2,531.7 929.6,543.6 930.0,560.6 930.3,575.9 930.7,582.5 931.1,575.6 931.4,561.5 931.8,550.0 932.2,542.2 932.7,535.9 933.1,532.5 933.5,531.2 933.9,530.2 934.6,528.8 935.4,527.8 936.2,526.8 936.9,525.9 937.7,525.1 939.2,525.2 939.5,526.7 939.9,528.6 940.2,530.1 941.0,529.2 941.5,526.2 941.9,524.6 942.3,525.7 942.8,527.9 943.2,529.0 943.9,527.5 944.3,526.1 944.6,525.1 945.6,544.8 946.3,528.1 947.6,527.3 948.5,537.0 948.9,546.6 949.3,537.8 949.8,529.0 950.5,531.6 950.9,534.4 951.2,537.7 951.6,541.3 952.0,546.6 952.3,554.5 952.7,563.4 953.0,571.7 953.4,577.9 953.7,580.3 954.1,577.8 954.4,571.4 954.8,562.8 955.2,553.8 955.5,546.0 955.9,541.3 956.3,538.8 956.6,536.5 957.0,534.7 957.3,533.4 958.1,534.7 958.5,538.9 959.0,544.4 959.4,550.1 959.8,557.2 960.2,566.2 960.6,573.9 961.0,577.2 961.4,574.9 961.7,569.7 962.1,564.1 962.6,554.8 963.1,548.3 963.5,547.4 964.9,565.4 965.2,554.8 965.6,543.9 966.5,542.9 967.7,541.3 968.0,539.9 968.4,538.3 968.8,536.8 969.1,535.6 970.6,536.3 971.0,537.4 971.3,539.0 971.7,541.3 971.9,553.1 972.3,550.4 972.6,545.0 973.0,541.3 973.4,540.0 973.7,539.1 974.5,537.8 975.2,536.5 975.6,535.6 976.0,534.2 976.3,532.3 976.7,530.2 977.1,528.3 977.4,526.9 978.2,534.9 978.7,550.1 979.2,569.0 979.6,581.2 980.0,574.1 980.5,560.1 980.9,550.1 981.3,546.6 981.6,543.7 982.0,541.2 982.4,539.2 982.7,537.8 983.1,536.9 983.8,535.7 984.5,534.8 985.6,533.7 987.0,533.2 988.5,534.4 989.3,535.8 989.7,536.7 990.1,537.8 990.6,541.3 991.0,538.9 991.4,536.5 992.5,537.5 993.2,538.8 994.0,540.7 994.5,542.2" stroke="#141414" stroke-width="1.6"/>
<polyline points="818.9,592.2 820.3,592.2 821.7,592.2 823.1,592.2 824.5,592.1 826.0,592.2 827.4,592.2 828.8,592.2 830.2,592.2 831.6,592.2 833.0,592.2 834.4,592.2 835.8,592.4 837.2,592.2 838.6,592.2 840.1,592.2 841.5,592.2 842.9,592.2 844.3,592.2 845.7,592.2 847.1,592.4 848.5,592.2 849.9,592.2 851.3,592.2 852.8,592.5 854.2,592.2 855.6,592.2 857.0,592.2 858.4,592.0 859.8,592.2 861.2,592.2 862.6,592.2 864.0,592.2 865.4,592.2 866.9,592.9 868.0,593.9 869.6,593.5 871.1,592.6 872.5,592.4 873.9,592.1 875.3,591.9 876.7,591.7 878.1,591.5 879.5,591.4 880.9,591.2 882.3,591.1 883.7,591.0 885.1,590.9 886.5,590.8 887.9,590.7 889.3,590.6 890.7,590.6 892.1,590.5 893.5,590.5 894.9,590.5 896.4,591.1 897.2,592.4 897.9,593.7 899.5,593.8 900.2,592.8 901.0,591.6 902.1,590.6 903.5,589.9 905.0,589.3 906.4,588.9 907.9,588.7 909.3,588.5 910.7,588.4 912.1,588.3 913.5,588.2 914.9,588.2 916.4,588.3 917.8,588.5 919.3,588.7 920.7,588.8 922.1,588.9 923.5,589.0 924.9,589.0 926.3,589.1 927.8,589.5 928.6,590.5 929.2,599.3 929.6,608.0 930.0,618.9 930.3,628.2 930.7,632.1 931.1,628.2 931.4,620.2 931.8,613.3 932.2,608.0 932.7,603.5 933.1,601.0 933.5,600.0 933.9,599.2 934.7,597.8 935.4,597.0 936.9,597.3 937.7,598.9 938.1,599.9 938.4,600.9 938.8,601.9 939.2,603.1 939.6,604.5 940.0,606.2 940.3,607.8 940.7,609.4 941.1,610.7 941.5,611.6 942.4,613.0 943.2,610.6 943.7,605.5 944.1,602.8 944.5,606.0 945.0,611.9 945.4,615.1 945.8,611.8 946.3,605.4 946.7,601.0 947.1,599.7 947.4,598.7 947.8,597.8 948.9,613.3 949.3,609.2 949.8,601.6 950.2,597.5 950.7,599.4 951.1,603.8 951.6,608.9 952.0,613.8 952.3,620.6 952.7,627.9 953.0,634.6 953.4,639.5 953.7,641.4 954.1,639.4 954.4,634.4 954.8,627.7 955.2,620.6 955.5,614.5 955.9,610.7 956.3,608.4 956.7,606.4 957.1,604.7 957.5,603.6 958.3,604.9 958.6,609.1 959.0,614.4 959.4,619.4 959.8,625.4 960.2,632.3 960.6,638.1 961.0,640.5 961.4,637.5 961.8,630.8 962.1,623.6 962.5,619.4 962.9,617.6 963.4,616.4 964.2,619.9 964.5,627.3 964.9,631.3 965.3,627.2 965.6,619.5 966.0,615.1 967.4,614.4 968.2,613.5 968.5,612.1 968.9,610.5 969.3,608.9 969.6,607.7 970.9,608.3 971.3,609.7 971.7,611.6 972.4,622.9 972.8,621.0 973.1,616.8 973.5,612.3 973.9,609.8 974.6,608.7 975.7,607.8 976.5,605.7 976.9,603.3 977.2,600.6 977.6,598.4 978.0,597.5 978.4,603.3 978.7,615.1 979.4,651.4 979.8,647.3 980.1,637.9 980.5,628.0 980.9,622.1 981.3,620.0 981.6,618.3 982.0,616.9 982.4,615.8 982.7,614.9 983.5,613.6 984.2,612.4 984.9,611.3 985.6,610.5 987.0,609.8 988.2,610.9 988.9,612.4 989.3,613.3 989.7,614.2 990.1,615.1 990.5,616.4 991.0,617.9 992.3,615.3 992.7,614.2 993.4,615.3 993.8,616.4 994.1,617.6 994.5,618.6" stroke="#f20c0c" stroke-width="1.6"/>
<polyline points="819.4,665.4 820.8,665.4 822.2,665.4 823.6,665.4 825.0,665.2 826.4,665.5 827.8,665.5 829.3,665.5 830.7,665.9 832.1,665.5 833.5,665.5 834.9,665.5 836.3,665.6 837.7,665.5 839.1,665.5 840.5,665.5 841.9,665.8 843.3,665.6 844.7,665.6 846.1,665.6 847.6,665.2 849.0,665.6 850.4,665.6 851.8,665.6 853.2,665.6 854.6,665.7 856.0,665.7 857.4,665.7 858.8,665.7 860.2,665.8 861.6,665.8 863.0,665.9 864.5,665.9 865.9,666.4 867.3,667.0 868.8,667.2 870.2,666.9 871.7,666.5 873.2,666.2 874.6,666.0 876.0,665.8 877.4,665.6 878.8,665.4 880.2,665.3 881.6,665.1 883.0,665.0 884.4,664.8 885.8,664.7 887.2,664.5 888.6,664.4 890.0,664.2 891.4,664.0 892.8,663.8 894.2,663.6 895.6,663.4 897.0,663.2 898.4,662.9 899.8,662.6 901.2,662.2 902.6,661.6 904.0,661.0 905.4,660.5 906.8,660.2 908.3,660.2 909.4,661.2 910.9,661.9 912.3,661.0 913.4,660.2 914.9,659.6 916.3,659.6 917.8,659.8 919.2,660.0 920.6,660.2 922.1,660.5 923.5,660.9 924.9,661.3 926.4,661.7 927.8,662.1 929.3,670.1 929.8,685.8 930.2,701.3 930.6,708.3 931.1,703.3 931.5,693.0 932.0,685.0 932.4,681.7 932.7,678.7 933.0,676.1 933.4,673.9 933.8,672.4 934.1,671.5 934.8,670.6 935.9,669.5 937.3,668.5 938.7,668.1 940.1,668.1 941.6,668.8 942.6,669.6 943.4,670.9 943.7,672.8 944.1,675.1 944.4,677.6 944.8,679.8 945.1,681.4 946.0,676.0 946.5,670.0 947.9,671.2 948.9,686.2 949.5,673.3 950.6,674.3 951.4,678.5 951.8,685.9 952.2,695.3 952.6,704.6 953.0,711.7 953.4,714.5 954.1,711.7 954.5,708.6 954.9,704.7 955.2,700.3 955.6,695.6 956.0,691.0 956.3,686.6 956.7,682.7 957.1,679.6 957.4,677.5 958.6,681.3 959.1,685.6 959.5,690.0 959.9,694.6 960.2,700.7 960.6,706.7 960.9,711.3 961.3,713.2 961.7,711.9 962.0,708.4 962.4,703.7 962.8,698.6 963.2,693.9 963.5,690.4 963.9,689.1 964.4,692.9 964.8,700.1 965.3,703.9 965.8,696.6 966.2,688.0 966.6,685.9 967.0,684.2 967.5,683.0 968.3,682.0 969.0,683.3 969.3,684.7 969.7,686.3 970.0,688.1 970.4,690.0 970.8,691.6 971.1,693.0 971.4,694.0 972.8,692.1 973.2,690.6 973.5,688.9 973.9,687.0 974.2,685.1 974.6,683.3 974.9,681.7 975.3,680.3 975.7,678.9 976.0,677.3 976.4,675.7 976.8,674.2 977.2,672.8 977.5,671.7 978.3,670.7 978.8,697.0 979.3,723.2 979.7,721.9 980.0,718.5 980.4,713.6 980.8,708.0 981.2,702.2 981.5,696.9 981.9,692.9 982.3,690.8 982.7,689.9 983.0,689.1 983.7,687.6 984.5,686.3 985.2,685.2 985.9,684.3 987.0,683.4 988.4,682.9 989.6,684.1 990.0,684.9 990.6,688.7 991.2,686.4 991.9,687.3 992.7,688.3 993.4,689.3 994.2,690.3 994.6,690.8" stroke="#12a84c" stroke-width="1.6"/>
<polyline points="819.4,742.5 820.8,742.5 822.2,742.6 823.6,742.6 825.0,742.8 826.4,742.6 827.8,742.6 829.3,742.6 830.7,742.8 832.1,742.7 833.5,742.7 834.9,742.7 836.3,742.5 837.7,742.7 839.1,742.8 840.5,742.8 841.9,742.5 843.3,742.8 844.7,742.8 846.1,742.8 847.6,743.3 849.0,742.9 850.4,742.9 851.8,743.0 853.2,743.0 854.6,743.0 856.0,743.1 857.4,743.1 858.8,743.2 860.2,743.2 861.6,743.3 863.0,743.3 864.5,743.4 865.9,744.0 867.3,744.6 868.8,744.8 870.3,744.0 871.9,743.4 873.3,743.2 874.7,743.0 876.1,742.8 877.5,742.6 878.9,742.5 880.3,742.4 881.8,742.3 883.2,742.2 884.6,742.1 886.0,742.0 887.4,741.9 888.8,741.9 890.3,741.8 891.7,741.6 893.1,741.5 894.5,741.4 895.9,741.2 897.3,741.0 898.7,740.8 900.2,740.4 901.6,739.7 903.0,738.9 904.4,738.0 905.9,737.2 907.3,736.6 908.7,736.4 909.9,737.5 910.6,738.3 912.1,738.1 913.1,737.3 914.5,736.4 916.0,736.4 917.4,736.5 918.8,736.6 920.2,736.7 921.6,737.0 923.0,737.4 924.5,737.8 925.9,738.4 927.3,739.1 928.4,740.3 928.8,742.2 929.2,745.0 929.7,758.5 930.1,779.7 930.6,790.7 931.1,785.2 931.5,774.0 932.0,765.0 932.4,761.1 932.7,757.5 933.0,754.2 933.4,751.5 933.8,749.6 934.1,748.6 934.8,747.7 935.9,746.6 937.3,745.6 938.7,745.2 940.1,745.2 941.6,746.2 942.3,747.0 943.0,748.0 943.4,749.1 943.7,751.1 944.1,753.6 944.4,756.2 944.8,758.6 945.1,760.2 946.0,754.5 946.5,748.0 947.6,748.9 948.3,750.8 948.9,766.7 949.5,752.7 950.6,754.1 951.0,755.0 951.4,757.9 951.8,763.8 952.2,771.4 952.6,779.5 953.0,786.9 953.4,792.2 953.8,794.2 954.2,793.2 954.5,790.5 954.9,786.5 955.3,781.5 955.6,776.0 956.0,770.3 956.3,764.8 956.7,759.8 957.1,755.8 957.4,753.1 957.8,752.1 958.2,753.7 958.6,757.7 959.1,762.9 959.5,768.0 959.9,773.0 960.2,779.3 960.6,785.5 960.9,790.2 961.3,792.1 961.7,790.5 962.0,786.4 962.4,781.0 962.8,775.7 963.1,771.6 963.5,770.0 963.9,771.1 964.2,773.6 964.6,776.6 964.9,779.1 965.3,780.2 965.7,776.7 966.1,769.9 966.5,765.0 966.9,763.1 967.2,761.5 967.6,760.2 967.9,759.4 969.3,761.4 969.7,762.8 970.0,764.4 970.4,765.9 970.8,767.3 971.1,768.5 971.8,769.6 972.5,768.6 972.8,767.4 973.2,766.0 973.5,764.3 973.9,762.5 974.2,760.7 974.6,758.9 974.9,757.3 975.3,756.0 975.7,754.6 976.0,753.1 976.4,751.6 976.8,750.2 977.2,748.9 977.5,747.8 978.3,746.9 978.7,760.6 979.1,786.1 979.5,799.8 979.9,798.4 980.3,794.6 980.7,789.3 981.1,783.4 981.5,777.6 981.9,772.9 982.3,770.0 982.7,768.5 983.0,767.1 983.4,765.8 983.7,764.5 984.1,763.2 984.5,762.1 984.8,761.0 985.2,760.1 985.5,759.2 985.9,758.4 986.6,757.0 987.3,756.1 988.8,755.7 989.6,756.8 990.0,757.6 990.6,761.7 991.2,759.1 991.9,760.0 992.7,761.3 993.4,762.9 993.8,763.7 994.2,764.5 994.6,765.3" stroke="#1466c6" stroke-width="1.6"/>
<polyline points="995.8,524.2 997.2,524.2 998.6,524.1 1000.0,524.1 1001.4,523.9 1002.9,524.1 1004.3,524.0 1005.7,524.0 1007.1,524.1 1008.5,523.9 1009.9,523.9 1011.3,523.9 1012.7,523.7 1014.2,523.8 1015.6,523.8 1017.0,523.8 1018.4,524.0 1019.8,523.7 1021.2,523.7 1022.6,523.7 1024.0,524.2 1025.5,523.7 1026.9,523.7 1028.3,523.7 1029.7,524.0 1031.1,523.8 1032.6,523.9 1034.0,524.0 1035.4,523.6 1036.8,524.3 1038.2,524.5 1039.7,524.7 1041.1,524.7 1042.5,525.2 1044.0,526.0 1044.7,527.1 1045.5,528.0 1047.0,527.7 1048.1,526.7 1049.3,525.7 1050.7,525.1 1052.1,524.8 1053.5,524.5 1055.0,524.2 1056.4,524.0 1057.8,523.7 1059.2,523.5 1060.6,523.3 1062.0,523.1 1063.5,523.0 1064.9,522.8 1066.3,522.7 1067.7,522.6 1069.1,522.5 1070.5,522.5 1072.0,522.4 1073.4,522.4 1074.8,522.4 1075.9,523.5 1076.6,524.4 1078.1,524.5 1079.5,524.2 1080.9,523.8 1082.3,523.2 1083.8,522.5 1085.2,521.9 1086.6,521.3 1088.0,520.9 1089.5,520.5 1091.0,520.2 1092.5,520.1 1093.9,520.5 1095.4,521.2 1096.8,522.0 1098.3,522.3 1099.7,522.4 1101.2,522.5 1102.6,522.5 1104.1,522.7 1105.3,524.3 1105.8,527.8 1106.2,534.9 1106.5,547.5 1106.9,561.7 1107.2,573.2 1107.6,578.0 1108.0,574.2 1108.4,565.2 1108.8,555.0 1109.2,547.5 1109.6,542.6 1110.0,538.0 1110.4,534.0 1110.8,531.1 1111.2,529.7 1112.3,528.7 1113.7,527.8 1114.9,526.7 1116.1,525.8 1117.5,525.4 1119.1,528.2 1119.6,531.2 1120.4,530.1 1120.8,529.3 1121.6,528.2 1122.0,538.4 1122.5,548.5 1122.9,545.6 1123.2,539.1 1123.6,532.6 1124.0,529.7 1125.4,530.0 1126.9,531.3 1127.2,532.3 1127.6,533.8 1128.0,535.6 1128.4,539.0 1128.7,545.0 1129.1,552.6 1129.5,560.9 1129.8,569.0 1130.2,575.9 1130.5,580.7 1130.9,582.5 1131.3,580.5 1131.6,575.2 1132.0,567.9 1132.3,559.7 1132.7,551.8 1133.0,545.4 1133.4,541.6 1133.8,539.6 1134.1,537.8 1134.5,536.4 1134.8,535.4 1135.6,539.5 1136.0,548.9 1136.4,557.3 1136.8,563.3 1137.2,569.6 1137.5,575.1 1137.9,579.0 1138.3,580.5 1138.7,576.7 1139.0,568.2 1139.4,559.6 1139.8,555.4 1140.9,554.5 1141.7,561.8 1142.1,569.2 1142.5,563.8 1142.9,553.4 1143.3,546.5 1143.7,544.5 1144.1,542.6 1144.4,541.1 1144.8,539.7 1145.2,538.6 1145.6,537.7 1146.3,536.7 1147.5,537.9 1147.9,539.4 1148.3,541.7 1148.7,544.5 1149.2,556.4 1149.7,550.3 1150.2,543.5 1150.6,542.6 1151.3,541.7 1152.4,540.8 1153.1,539.6 1153.5,537.7 1153.9,534.6 1154.3,531.2 1154.7,528.4 1155.1,527.3 1155.5,534.5 1155.9,547.5 1156.4,568.9 1156.9,583.0 1157.3,578.4 1157.7,567.8 1158.1,556.5 1158.5,549.4 1158.9,546.4 1159.3,543.8 1159.7,541.8 1160.1,540.4 1160.8,539.2 1161.9,538.3 1163.3,537.7 1164.8,538.2 1165.6,539.6 1166.0,540.6 1166.4,541.6 1166.8,543.3 1167.2,545.8 1167.5,548.0 1167.9,549.0 1168.7,547.0 1169.0,545.6 1170.5,545.6 1171.5,546.4 1172.8,545.3 1173.3,544.5" stroke="#141414" stroke-width="1.6"/>
<polyline points="995.8,593.0 997.2,593.0 998.6,593.1 1000.0,593.1 1001.4,593.5 1002.8,593.3 1004.2,593.3 1005.6,593.4 1007.0,593.4 1008.4,593.5 1009.8,593.5 1011.2,593.6 1012.6,594.0 1014.0,593.7 1015.4,593.8 1016.8,593.8 1018.2,594.4 1019.6,594.0 1021.0,594.0 1022.4,594.1 1023.8,594.1 1025.2,594.2 1026.6,594.2 1028.0,594.3 1029.4,593.6 1030.8,594.4 1032.2,594.4 1033.6,594.4 1035.0,594.7 1036.4,594.5 1037.8,594.5 1039.2,594.6 1040.6,594.8 1042.0,594.6 1043.4,594.6 1044.8,594.6 1046.2,594.4 1047.6,594.6 1049.0,594.5 1050.4,594.5 1051.9,594.3 1053.3,594.4 1054.7,594.3 1056.1,594.2 1057.5,594.2 1058.9,593.9 1060.3,593.8 1061.7,593.6 1063.2,593.8 1064.6,593.3 1066.0,593.1 1067.4,593.0 1068.8,592.6 1070.2,592.6 1071.6,592.4 1073.0,592.2 1074.4,592.1 1075.9,591.7 1077.3,591.3 1078.7,590.8 1080.1,590.6 1081.5,589.6 1082.9,589.1 1084.3,588.8 1085.7,588.3 1087.2,588.4 1088.6,588.4 1090.0,588.3 1091.4,587.9 1092.9,588.3 1094.3,588.7 1095.7,589.3 1097.2,589.2 1098.6,589.8 1100.1,589.7 1101.5,589.5 1103.0,589.4 1104.4,589.3 1105.3,591.7 1105.8,596.7 1106.2,604.0 1106.6,615.4 1107.0,627.5 1107.4,637.2 1107.8,641.1 1108.2,637.6 1108.5,629.7 1108.8,620.7 1109.2,614.4 1109.6,610.2 1110.0,606.6 1110.4,603.5 1110.8,601.1 1111.2,599.7 1111.6,598.9 1112.3,597.5 1113.0,596.5 1114.4,596.4 1115.5,597.3 1116.2,598.2 1117.0,599.8 1117.3,601.4 1117.7,602.9 1119.0,601.7 1119.6,604.4 1120.2,599.1 1120.6,597.7 1121.0,596.7 1121.8,595.7 1122.2,603.6 1122.5,611.5 1122.9,609.1 1123.2,603.9 1123.6,598.6 1124.0,596.2 1124.4,599.0 1124.8,605.3 1125.1,611.6 1125.5,614.4 1125.9,611.6 1126.2,605.5 1126.6,599.5 1127.0,596.7 1127.4,597.6 1127.8,599.9 1128.1,603.1 1128.5,606.6 1128.9,612.2 1129.3,620.5 1129.7,629.8 1130.1,638.5 1130.5,645.0 1130.9,647.5 1131.3,645.8 1131.6,641.3 1132.0,635.1 1132.3,628.0 1132.7,621.1 1133.0,615.2 1133.4,611.5 1133.8,608.9 1134.2,606.4 1134.6,604.5 1135.0,603.1 1135.9,607.3 1136.3,617.3 1136.8,626.3 1137.2,632.0 1137.5,637.8 1137.9,642.2 1138.3,644.0 1138.7,641.4 1139.1,635.3 1139.5,627.7 1139.9,621.0 1140.3,617.4 1140.8,616.0 1141.8,624.8 1142.3,634.2 1142.8,626.0 1143.3,616.4 1143.7,614.5 1144.1,612.9 1144.4,611.4 1144.8,610.2 1145.2,609.2 1145.9,607.9 1147.5,608.6 1147.8,609.9 1148.2,611.5 1148.7,618.0 1149.2,623.3 1149.7,617.8 1150.2,611.5 1150.6,610.6 1151.3,609.6 1152.4,608.7 1153.1,607.5 1153.5,606.1 1153.8,603.8 1154.2,601.2 1154.6,598.8 1154.9,596.9 1155.7,602.1 1156.1,614.4 1156.5,638.8 1156.9,656.9 1157.3,652.1 1157.7,641.2 1158.1,629.5 1158.5,622.3 1158.9,619.6 1159.2,617.2 1159.6,615.2 1159.9,613.6 1160.3,612.2 1160.6,611.2 1161.4,610.0 1162.1,609.0 1162.8,608.1 1163.9,607.3 1165.4,607.5 1165.8,608.9 1166.2,610.7 1166.6,612.5 1167.0,613.9 1168.2,611.7 1168.5,609.8 1168.9,609.0 1169.7,611.6 1170.1,613.8 1170.5,615.6 1171.7,615.2 1172.1,614.0 1172.5,612.6 1172.9,611.2 1173.3,610.0" stroke="#f20c0c" stroke-width="1.6"/>
<polyline points="996.2,666.3 997.6,666.3 999.1,666.2 1000.5,666.2 1001.9,666.2 1003.4,666.0 1004.8,666.0 1006.2,666.0 1007.6,665.8 1009.1,665.9 1010.5,665.9 1011.9,666.4 1013.3,667.1 1014.4,668.5 1015.4,669.5 1016.5,670.4 1017.5,671.5 1018.6,672.4 1020.0,673.3 1021.5,674.1 1023.0,674.8 1024.5,675.0 1025.9,674.3 1027.0,673.2 1028.0,672.4 1029.4,671.7 1030.8,671.0 1032.2,670.4 1033.6,669.8 1035.0,669.3 1036.4,669.0 1037.9,668.7 1039.3,668.5 1040.7,668.3 1042.1,668.1 1043.5,667.9 1044.9,667.8 1046.3,667.6 1047.7,667.5 1049.1,667.3 1050.5,667.2 1051.9,667.1 1053.3,666.9 1054.7,666.8 1056.1,666.7 1057.5,666.5 1058.9,666.4 1060.3,666.2 1061.7,666.1 1063.1,665.9 1064.5,665.7 1066.0,665.4 1067.4,665.0 1068.8,664.7 1070.3,664.3 1071.7,664.1 1073.1,663.8 1074.6,663.7 1076.0,663.9 1077.4,664.8 1078.8,665.4 1080.2,664.9 1081.3,664.1 1082.3,663.0 1083.4,662.0 1084.5,661.2 1085.9,660.7 1087.3,661.4 1088.4,662.3 1089.8,662.7 1091.2,661.8 1092.2,660.9 1093.6,660.7 1095.1,660.7 1096.5,660.8 1097.9,660.9 1099.4,661.0 1100.8,661.2 1102.2,661.5 1103.7,661.9 1105.1,662.4 1105.5,663.6 1106.0,666.3 1106.4,672.1 1106.7,682.5 1107.1,694.1 1107.4,703.5 1107.8,707.4 1108.2,705.1 1108.5,699.4 1108.9,691.8 1109.3,684.2 1109.6,678.0 1110.0,675.0 1110.4,674.2 1111.1,672.7 1111.9,671.5 1112.6,670.5 1113.7,669.5 1115.2,668.9 1116.7,669.7 1117.5,671.1 1117.9,672.0 1118.2,673.1 1118.6,674.3 1119.0,675.7 1119.6,680.6 1120.2,678.1 1121.0,679.3 1121.4,680.5 1121.8,681.7 1122.2,682.5 1123.4,680.3 1123.8,677.7 1124.1,675.0 1124.5,672.4 1124.9,670.5 1125.7,671.6 1126.2,676.0 1126.6,681.2 1127.0,685.5 1127.4,688.3 1127.7,691.3 1128.1,694.3 1128.4,697.3 1128.8,700.2 1129.1,702.9 1129.5,705.2 1129.8,707.2 1130.2,708.8 1130.5,709.8 1131.6,707.1 1132.0,704.0 1132.4,700.1 1132.8,695.9 1133.1,691.7 1133.5,687.8 1133.9,684.7 1134.2,682.5 1135.3,686.0 1135.6,690.6 1136.0,696.1 1136.3,702.2 1136.7,708.3 1137.0,713.8 1137.4,718.4 1137.8,721.6 1138.1,722.7 1138.5,721.6 1138.8,718.8 1139.2,714.8 1139.5,710.2 1139.9,705.7 1140.3,701.7 1140.6,698.9 1141.0,697.8 1141.5,703.0 1141.9,708.3 1142.6,705.8 1143.0,703.2 1143.3,700.0 1143.7,696.5 1144.0,693.0 1144.4,689.8 1144.7,687.2 1145.1,685.4 1146.5,687.2 1146.8,688.7 1147.2,690.4 1147.5,692.1 1147.9,693.6 1148.2,694.9 1148.6,695.8 1150.0,693.8 1150.3,692.2 1150.7,690.5 1151.0,688.6 1151.4,686.7 1151.7,684.9 1152.1,683.3 1152.4,682.0 1152.8,680.8 1153.1,679.5 1153.5,678.2 1153.8,677.0 1154.2,675.8 1154.5,674.8 1155.2,673.5 1156.0,684.7 1156.4,705.7 1156.8,717.1 1157.2,715.7 1157.5,712.1 1157.9,707.1 1158.3,701.6 1158.7,696.5 1159.0,692.6 1159.4,690.8 1160.1,690.0 1161.2,689.1 1162.7,688.4 1164.2,688.3 1165.2,689.1 1165.9,690.2 1166.6,691.7 1167.0,692.7 1167.3,693.8 1167.9,699.2 1168.5,695.7 1169.6,696.5 1170.4,697.8 1171.1,699.3 1171.9,700.8 1172.6,702.2" stroke="#12a84c" stroke-width="1.6"/>
<polyline points="996.2,742.5 997.6,742.5 999.0,742.5 1000.4,742.5 1001.9,742.6 1003.3,742.5 1004.7,742.5 1006.1,742.5 1007.5,743.0 1008.9,742.5 1010.3,742.5 1011.7,742.5 1013.2,742.5 1014.6,742.5 1016.0,742.5 1017.4,742.5 1018.8,742.2 1020.2,742.5 1021.6,742.5 1023.1,742.5 1024.5,742.4 1025.9,742.5 1027.3,742.5 1028.7,742.5 1030.1,742.4 1031.5,742.5 1032.9,742.6 1034.3,742.6 1035.7,742.9 1037.1,742.8 1038.5,742.9 1039.9,743.0 1041.3,743.0 1042.7,743.3 1044.2,743.5 1045.3,744.5 1046.8,745.0 1047.9,743.9 1049.1,743.0 1050.5,742.8 1051.9,742.6 1053.3,742.5 1054.7,742.4 1056.1,742.3 1057.5,742.2 1058.9,742.2 1060.3,742.1 1061.7,742.1 1063.1,742.1 1064.5,742.0 1065.9,742.0 1067.3,742.0 1068.7,741.9 1070.1,741.9 1071.5,741.8 1072.9,741.7 1074.3,741.6 1075.7,741.5 1077.1,741.3 1078.5,740.9 1079.9,740.1 1081.3,739.2 1082.7,738.3 1084.1,737.6 1085.5,737.2 1087.0,737.9 1088.1,738.9 1089.6,738.6 1091.1,737.6 1092.5,736.7 1094.0,736.7 1095.4,736.8 1096.8,736.9 1098.3,737.1 1099.7,737.5 1101.2,737.9 1102.6,738.5 1104.0,739.2 1105.4,740.7 1105.8,742.5 1106.2,745.2 1106.5,748.6 1106.9,761.8 1107.4,781.4 1107.8,791.5 1108.2,788.7 1108.5,781.8 1108.9,772.7 1109.3,763.3 1109.6,755.8 1110.0,752.1 1110.4,751.0 1110.7,750.1 1111.1,749.2 1111.8,747.8 1112.5,746.8 1113.9,746.0 1115.4,747.0 1116.1,748.3 1116.5,749.1 1116.8,750.0 1117.2,751.0 1117.5,752.2 1117.9,753.4 1118.3,754.8 1118.6,756.2 1119.0,757.8 1119.6,763.4 1120.2,760.6 1121.0,762.0 1121.4,763.3 1121.8,764.7 1122.2,765.7 1123.3,764.3 1123.6,762.3 1124.0,759.9 1124.3,757.4 1124.7,754.8 1125.0,752.4 1125.4,750.4 1125.8,749.1 1126.8,750.1 1127.2,751.6 1127.5,753.5 1127.9,755.6 1128.3,759.1 1128.7,764.5 1129.1,771.2 1129.5,778.4 1129.8,785.3 1130.2,791.2 1130.6,795.3 1131.0,796.8 1131.4,795.6 1131.7,792.3 1132.1,787.5 1132.4,781.7 1132.8,775.3 1133.2,769.0 1133.5,763.2 1133.9,758.4 1134.2,755.1 1134.6,753.9 1134.9,755.1 1135.3,758.2 1135.6,762.8 1136.0,768.4 1136.3,774.5 1136.7,780.5 1137.0,786.1 1137.4,790.7 1137.8,793.8 1138.1,795.0 1138.5,793.8 1138.8,790.8 1139.2,786.4 1139.5,781.5 1139.9,776.5 1140.3,772.1 1140.6,769.1 1141.0,767.9 1141.4,769.5 1141.7,773.5 1142.1,778.1 1142.4,782.1 1142.8,783.7 1143.5,781.5 1143.9,779.0 1144.3,776.0 1144.6,772.5 1145.0,768.8 1145.4,765.1 1145.7,761.6 1146.1,758.6 1146.5,756.1 1146.8,754.5 1147.9,757.0 1148.3,760.1 1148.7,763.4 1149.1,766.5 1149.4,768.7 1149.8,769.6 1150.5,767.4 1150.9,765.2 1151.3,762.5 1151.7,759.9 1152.0,757.4 1152.4,755.6 1152.8,754.2 1153.1,752.7 1153.5,751.3 1153.8,749.9 1154.2,748.6 1154.5,747.6 1154.9,746.7 1156.0,772.9 1156.5,799.8 1156.9,798.7 1157.3,795.8 1157.6,791.5 1158.0,786.3 1158.4,780.5 1158.8,774.6 1159.2,769.1 1159.5,764.4 1159.9,760.9 1160.3,759.1 1161.0,757.6 1161.8,756.3 1162.5,755.3 1163.6,754.3 1165.1,753.9 1166.6,754.7 1167.3,755.6 1167.9,761.1 1168.5,756.4 1170.0,757.0 1171.1,757.9 1172.2,758.8 1172.6,759.1" stroke="#1466c6" stroke-width="1.6"/>
<polyline points="1174.1,523.7 1175.5,523.7 1176.9,523.7 1178.3,523.7 1179.7,524.3 1181.1,523.7 1182.5,523.7 1183.9,523.7 1185.3,523.4 1186.7,523.7 1188.1,523.7 1189.5,523.7 1191.0,523.8 1192.4,523.7 1193.8,523.7 1195.2,523.7 1196.6,523.9 1198.0,523.7 1199.4,523.7 1200.8,523.7 1202.2,524.3 1203.6,523.7 1205.0,523.7 1206.4,523.7 1207.8,523.4 1209.3,523.7 1210.7,523.8 1212.1,523.8 1213.5,523.9 1215.0,524.0 1216.4,524.1 1217.8,524.2 1219.2,524.4 1220.6,524.5 1222.2,525.3 1223.4,526.3 1224.9,526.2 1226.4,525.4 1227.9,524.7 1229.4,524.4 1230.8,524.2 1232.2,523.9 1233.6,523.7 1235.0,523.5 1236.4,523.3 1237.8,523.2 1239.2,523.0 1240.7,522.9 1242.1,522.8 1243.5,522.7 1244.9,522.6 1246.3,522.5 1247.7,522.4 1249.1,522.4 1250.5,522.4 1252.0,522.7 1253.5,523.5 1255.0,524.2 1256.5,524.1 1257.9,523.5 1259.4,522.6 1260.8,521.7 1262.2,520.8 1263.7,520.2 1265.1,520.0 1266.6,519.9 1268.1,519.8 1269.5,519.7 1271.0,519.7 1272.4,519.9 1273.8,520.1 1275.3,520.1 1276.7,520.1 1278.1,520.0 1279.6,520.0 1281.0,519.9 1282.4,519.9 1283.2,520.8 1283.7,522.8 1284.1,529.3 1284.4,542.1 1284.8,556.6 1285.1,568.6 1285.5,573.6 1285.9,569.9 1286.3,561.3 1286.8,551.5 1287.2,544.5 1287.6,540.5 1288.0,536.8 1288.4,533.6 1288.8,531.2 1289.2,529.7 1289.6,528.8 1290.0,528.0 1290.7,526.6 1291.5,525.7 1292.6,524.8 1294.0,524.2 1295.4,523.9 1296.6,529.2 1297.4,527.8 1297.8,526.5 1298.2,525.2 1298.6,524.2 1299.5,532.2 1300.0,540.6 1300.5,533.5 1301.0,526.3 1302.2,526.5 1303.5,537.0 1304.0,547.0 1304.5,537.9 1304.9,528.7 1305.7,531.1 1306.0,533.7 1306.4,536.6 1306.8,542.6 1307.2,552.1 1307.6,562.4 1308.0,570.7 1308.4,574.1 1308.8,572.6 1309.1,568.7 1309.5,563.2 1309.8,556.8 1310.2,550.6 1310.5,545.2 1310.9,541.6 1311.3,538.9 1311.7,536.4 1312.0,534.2 1312.4,532.8 1313.2,534.8 1313.5,540.9 1313.9,548.3 1314.3,554.4 1314.7,559.7 1315.0,565.1 1315.4,569.4 1315.8,571.1 1316.2,568.7 1316.5,563.1 1316.9,556.8 1317.3,552.4 1317.7,549.9 1318.0,547.7 1318.3,546.1 1319.2,553.9 1319.7,562.3 1320.2,554.2 1320.7,545.5 1321.5,544.3 1322.2,543.5 1322.6,542.6 1322.9,541.4 1323.3,540.0 1323.6,538.5 1324.0,537.3 1324.3,536.4 1325.6,538.2 1326.1,540.6 1326.4,547.5 1326.8,553.4 1327.2,550.1 1327.7,543.7 1328.1,539.6 1328.5,538.8 1329.2,537.9 1330.2,536.8 1331.0,534.5 1331.4,531.8 1331.8,529.0 1332.2,526.7 1332.6,525.8 1333.2,549.4 1333.6,569.1 1334.0,581.0 1334.4,576.6 1334.8,566.5 1335.1,555.9 1335.5,549.4 1335.9,546.9 1336.2,544.8 1336.6,542.9 1337.0,541.4 1337.4,540.2 1337.8,539.1 1338.1,538.3 1338.9,537.0 1339.6,535.9 1340.4,535.0 1341.9,534.2 1343.1,535.6 1343.5,536.5 1343.9,537.6 1344.3,540.3 1344.7,542.5 1345.1,541.1 1345.5,538.5 1345.9,537.1 1346.3,538.1 1346.7,540.4 1347.0,543.2 1347.4,545.5 1347.8,546.5 1348.3,543.9 1348.8,539.6" stroke="#141414" stroke-width="1.6"/>
<polyline points="1174.1,597.5 1175.5,597.6 1176.9,597.6 1178.3,597.7 1179.7,597.9 1181.1,597.8 1182.5,597.9 1183.9,598.0 1185.3,597.5 1186.7,598.1 1188.1,598.2 1189.5,598.2 1191.0,598.1 1192.4,598.4 1193.8,598.4 1195.2,598.5 1196.6,598.6 1198.0,598.6 1199.4,598.6 1200.8,598.6 1202.2,599.1 1203.6,598.7 1205.0,598.7 1206.4,598.7 1207.8,598.9 1209.2,598.7 1210.6,598.7 1212.0,598.7 1213.4,598.9 1214.8,598.6 1216.2,598.6 1217.6,598.5 1219.0,598.6 1220.4,598.5 1221.8,598.4 1223.2,598.4 1224.6,598.7 1226.0,598.2 1227.4,598.2 1228.8,598.1 1230.2,597.9 1231.6,597.9 1233.0,597.9 1234.4,597.8 1235.8,597.7 1237.2,597.6 1238.6,597.5 1240.0,597.4 1241.4,596.8 1242.8,597.2 1244.2,597.0 1245.6,596.9 1247.0,596.7 1248.4,596.6 1249.8,596.5 1251.3,596.4 1252.8,596.0 1254.3,595.6 1255.8,595.2 1257.2,594.8 1258.6,594.3 1260.1,593.8 1261.5,593.4 1263.0,593.1 1264.4,593.0 1265.8,594.0 1266.6,594.8 1267.6,595.7 1269.1,595.3 1270.1,594.4 1271.2,593.5 1272.6,593.3 1274.1,593.5 1275.5,593.7 1276.9,594.1 1278.4,594.4 1279.8,594.8 1281.3,595.1 1282.8,595.6 1283.6,597.0 1284.1,599.3 1284.5,601.7 1285.0,605.0 1285.5,607.1 1285.9,606.2 1286.3,604.1 1286.8,602.0 1287.2,600.7 1288.3,599.7 1289.7,599.2 1291.2,600.2 1292.0,601.6 1292.3,603.3 1292.7,605.6 1293.1,608.3 1293.5,611.2 1293.8,614.1 1294.2,616.9 1294.6,619.4 1295.0,621.7 1295.4,624.1 1295.7,626.6 1296.1,629.0 1296.5,631.3 1296.9,633.6 1297.2,635.6 1297.6,637.5 1298.0,639.2 1298.4,640.9 1298.8,642.6 1299.2,644.1 1299.6,645.2 1300.4,644.2 1300.8,640.7 1301.1,636.3 1301.5,632.3 1301.9,628.0 1302.2,623.1 1302.6,619.2 1303.0,617.5 1303.3,619.5 1303.7,621.4 1304.1,619.3 1304.6,614.8 1305.0,610.2 1305.4,608.1 1306.2,610.3 1306.5,612.4 1306.9,614.5 1307.3,617.1 1307.7,620.4 1308.0,623.2 1308.4,624.4 1309.2,622.6 1309.6,620.9 1310.0,619.1 1310.4,617.5 1310.8,616.0 1311.2,614.3 1311.6,612.5 1312.0,611.0 1312.4,610.0 1313.6,611.9 1314.0,614.3 1314.4,616.9 1314.8,619.4 1315.2,622.2 1315.5,625.7 1315.9,628.6 1316.3,629.8 1316.8,626.5 1317.3,621.4 1317.7,618.6 1318.0,615.7 1318.3,613.4 1318.7,612.5 1319.2,615.8 1319.7,619.0 1320.5,617.3 1320.9,615.7 1321.3,614.1 1321.7,613.0 1322.4,611.8 1323.1,610.9 1323.8,610.1 1324.6,608.9 1325.1,608.0 1325.9,607.1 1326.4,610.7 1326.9,619.4 1327.6,656.9 1328.1,640.6 1328.6,621.4 1329.0,617.7 1329.3,615.1 1329.7,613.2 1330.1,611.6 1330.5,610.1 1330.9,608.9 1331.3,607.8 1331.7,606.7 1332.1,605.6 1332.5,604.1 1332.9,603.2 1333.5,619.4 1334.0,632.2 1334.5,639.2 1335.0,630.7 1335.5,621.4 1335.9,620.4 1336.6,619.1 1337.6,617.9 1338.4,617.0 1339.1,616.0 1339.8,615.0 1340.6,614.1 1341.7,613.2 1343.2,613.9 1344.0,615.2 1345.5,614.2 1347.1,615.1 1347.9,616.4 1348.3,617.0" stroke="#f20c0c" stroke-width="1.6"/>
<polyline points="1174.2,668.4 1175.6,668.4 1177.1,668.4 1178.5,668.4 1179.9,668.5 1181.4,668.4 1182.8,668.4 1184.2,668.4 1185.6,668.7 1187.1,668.4 1188.5,668.4 1189.9,668.4 1191.3,668.8 1192.8,669.7 1194.1,670.1 1195.5,670.1 1197.0,670.0 1198.3,670.0 1199.8,669.9 1201.1,669.8 1202.5,669.7 1204.0,669.6 1205.3,669.5 1206.8,669.3 1208.1,669.2 1209.5,669.1 1211.0,669.0 1212.3,668.9 1213.8,668.7 1215.1,668.6 1216.5,668.6 1218.0,668.5 1219.3,668.4 1220.8,668.4 1222.2,668.5 1223.3,669.4 1224.8,670.0 1226.3,669.2 1227.8,668.8 1229.2,668.5 1230.6,668.2 1232.0,668.0 1233.4,667.8 1234.8,667.5 1236.2,667.4 1237.6,667.2 1239.0,667.0 1240.4,666.9 1241.8,666.7 1243.2,666.6 1244.6,666.5 1246.0,666.4 1247.4,666.4 1248.8,666.3 1250.2,666.3 1251.6,666.3 1252.8,667.9 1253.2,668.8 1253.5,669.6 1254.3,671.0 1255.8,669.8 1256.2,668.9 1256.6,668.0 1257.0,667.1 1257.7,665.9 1258.8,664.8 1259.9,663.8 1261.0,663.0 1262.4,662.2 1263.9,661.9 1265.0,662.9 1265.8,664.0 1267.2,664.3 1268.7,663.2 1269.8,662.3 1271.3,661.9 1272.7,661.9 1274.1,662.0 1275.6,662.2 1277.0,662.6 1278.4,663.0 1279.9,663.7 1281.3,664.5 1282.7,665.6 1283.5,669.1 1284.0,675.0 1284.4,681.7 1284.7,691.0 1285.1,700.6 1285.4,708.0 1285.8,711.0 1286.2,706.5 1286.7,696.5 1287.1,686.1 1287.5,680.3 1287.8,678.9 1288.2,677.7 1288.5,676.6 1288.9,675.6 1289.2,674.8 1290.0,673.6 1291.4,673.2 1291.7,674.1 1292.1,675.5 1292.5,677.2 1292.8,679.2 1293.2,681.3 1293.6,683.4 1293.9,685.5 1294.3,687.4 1294.7,689.0 1295.0,690.1 1296.0,691.2 1296.6,695.2 1297.2,692.0 1298.7,691.8 1300.0,701.1 1300.6,689.7 1301.3,688.6 1302.7,687.3 1303.1,685.1 1303.4,683.3 1304.0,692.9 1304.6,676.5 1305.0,674.2 1305.3,675.4 1305.7,678.7 1306.0,683.5 1306.4,689.3 1306.8,695.7 1307.1,702.0 1307.5,707.8 1307.8,712.6 1308.2,715.9 1308.5,717.1 1308.8,716.3 1309.2,714.0 1309.5,710.7 1309.9,706.6 1310.2,702.2 1310.6,697.8 1311.0,693.7 1311.3,690.4 1311.7,688.1 1312.0,687.3 1312.4,688.2 1312.7,690.7 1313.1,694.5 1313.5,699.1 1313.9,704.3 1314.2,709.7 1314.6,714.9 1315.0,719.5 1315.4,723.3 1315.7,725.8 1316.1,726.7 1316.5,725.5 1316.8,722.2 1317.2,717.6 1317.5,712.2 1317.9,706.9 1318.3,702.3 1318.6,699.0 1319.0,697.8 1319.5,704.8 1319.9,711.8 1320.6,709.6 1321.0,707.1 1321.4,704.1 1321.7,700.6 1322.1,696.9 1322.5,693.2 1322.8,689.7 1323.2,686.7 1323.6,684.2 1323.9,682.6 1325.0,685.8 1325.4,689.6 1325.8,693.7 1326.2,697.5 1326.5,700.2 1326.9,701.3 1327.3,700.5 1327.6,698.3 1328.0,695.2 1328.4,691.7 1328.8,688.1 1329.1,685.1 1329.5,682.9 1329.9,681.3 1330.2,679.8 1330.6,678.3 1331.0,677.0 1331.4,675.9 1331.8,675.0 1332.8,682.0 1333.2,699.2 1333.6,716.3 1333.9,724.1 1334.3,722.4 1334.7,717.9 1335.1,711.8 1335.4,705.0 1335.8,698.5 1336.2,693.4 1336.6,690.8 1337.0,689.8 1337.3,688.9 1337.7,688.0 1338.5,686.5 1339.2,685.3 1339.9,684.4 1341.1,683.6 1342.6,683.8 1343.3,684.9 1343.7,685.8 1344.1,686.8 1344.7,691.3 1345.3,688.6 1346.2,689.9 1347.8,696.0 1348.4,691.4 1348.8,691.7" stroke="#12a84c" stroke-width="1.6"/>
<polyline points="1174.2,742.0 1175.6,742.0 1177.0,742.0 1178.4,742.1 1179.9,742.3 1181.3,742.1 1182.7,742.2 1184.1,742.2 1185.5,742.0 1186.9,742.2 1188.3,742.3 1189.7,742.3 1191.2,742.3 1192.6,742.4 1194.0,742.4 1195.4,742.4 1196.8,742.5 1198.2,742.4 1199.6,742.5 1201.1,742.5 1202.5,742.1 1203.9,742.5 1205.3,742.5 1206.7,742.5 1208.1,743.0 1209.5,742.4 1210.9,742.4 1212.3,742.3 1213.7,742.0 1215.1,742.2 1216.5,742.1 1217.9,742.1 1219.3,742.2 1220.7,742.0 1222.2,742.1 1223.3,743.0 1224.8,743.6 1226.1,742.7 1227.6,742.4 1229.0,742.2 1230.4,742.0 1231.8,741.9 1233.2,741.8 1234.6,741.7 1236.0,741.7 1237.4,741.6 1238.9,741.6 1240.3,741.5 1241.7,741.5 1243.1,741.4 1244.5,741.4 1245.9,741.4 1247.3,741.3 1248.7,741.2 1250.2,741.1 1251.6,741.0 1253.0,740.9 1254.4,740.8 1255.8,740.6 1257.2,740.1 1258.6,739.5 1260.0,738.9 1261.4,738.3 1262.8,737.9 1264.3,737.9 1265.8,738.8 1267.2,738.8 1268.7,737.9 1270.2,736.9 1271.6,736.7 1273.1,736.7 1274.5,736.8 1275.9,737.0 1277.4,737.2 1278.8,737.5 1280.2,737.9 1281.7,738.4 1283.1,739.0 1283.4,739.9 1283.8,741.9 1284.2,744.9 1284.5,748.6 1284.9,760.5 1285.4,777.6 1285.8,786.3 1286.2,783.9 1286.5,778.0 1286.9,770.2 1287.3,762.1 1287.6,755.5 1288.0,752.1 1288.4,750.9 1288.7,749.8 1289.1,748.9 1289.4,748.0 1290.1,746.6 1290.8,745.6 1292.3,745.4 1292.6,746.3 1293.0,747.7 1293.4,749.3 1293.7,751.3 1294.1,753.3 1294.5,755.3 1294.8,757.3 1295.2,759.0 1295.6,760.4 1295.9,761.4 1297.5,762.0 1299.0,762.2 1300.0,774.7 1300.6,762.5 1301.9,763.0 1302.3,763.9 1302.6,765.5 1303.0,767.6 1303.4,770.4 1304.0,787.7 1304.6,775.4 1305.3,776.8 1305.7,778.3 1306.0,780.2 1306.4,782.4 1306.7,784.5 1307.1,786.7 1307.4,788.6 1307.8,790.1 1308.1,791.1 1309.2,787.4 1309.5,783.0 1309.9,777.6 1310.2,771.8 1310.6,766.0 1311.0,760.6 1311.3,756.2 1311.7,753.2 1312.0,752.1 1312.4,753.0 1312.7,755.4 1313.1,759.0 1313.5,763.4 1313.9,768.4 1314.2,773.5 1314.6,778.5 1315.0,782.9 1315.4,786.5 1315.7,788.9 1316.1,789.8 1316.8,788.8 1317.2,787.9 1317.6,786.7 1318.0,785.6 1318.4,784.6 1319.1,783.7 1319.7,794.7 1320.3,781.2 1320.8,780.2 1321.2,778.9 1321.5,777.0 1321.9,774.6 1322.3,771.9 1322.6,769.0 1323.0,766.0 1323.4,763.2 1323.7,760.5 1324.1,758.2 1324.5,756.4 1324.8,755.2 1325.6,757.4 1326.1,763.1 1326.5,768.8 1326.9,771.4 1327.6,768.9 1328.0,766.4 1328.4,763.4 1328.8,760.4 1329.1,757.7 1329.5,755.6 1329.9,753.9 1330.2,752.1 1330.6,750.3 1331.0,748.7 1331.4,747.2 1331.8,746.1 1332.5,745.1 1332.9,753.6 1333.2,772.5 1333.6,791.3 1334.0,799.8 1334.4,798.6 1334.8,795.5 1335.1,790.9 1335.5,785.5 1335.9,779.6 1336.3,773.8 1336.6,768.7 1337.0,764.8 1337.4,762.6 1337.8,761.5 1338.1,760.4 1338.5,759.4 1338.9,758.5 1339.2,757.7 1340.0,756.3 1340.7,755.4 1342.2,754.8 1343.7,756.0 1344.7,761.2 1345.3,757.6 1346.7,758.9 1347.2,760.0 1347.8,766.7 1348.4,761.9 1348.8,762.6" stroke="#1466c6" stroke-width="1.6"/>
</g>
<g fill="none" stroke="#444444" stroke-width="1.8">
<rect x="7.7" y="56.6" width="535.9" height="351.3"/>
<path d="M186.5,56.6V407.9M365.2,56.6V407.9M83.5,396.8V407.9M110.8,396.8V407.9M167.3,396.8V407.9M253.3,396.8V407.9M281,396.8V407.9M346.5,396.8V407.9M436.7,396.8V407.9M466.1,396.8V407.9M525.9,396.8V407.9"/>
<rect x="559.2" y="56.3" width="532.9" height="349"/>
<path d="M736.4,56.3V405.3M914.7,56.3V405.3M630.3,393.8V405.3M710.4,393.8V405.3M731,393.8V405.3M810.2,393.8V405.3M887.2,393.8V405.3M910.2,393.8V405.3M990.3,393.8V405.3M1066.4,393.8V405.3M1086.5,393.8V405.3"/>
<rect x="1104.4" y="56.4" width="535.4" height="350.2"/>
<path d="M1282.8,56.4V406.6M1461.8,56.4V406.6M1182.2,395V406.6M1226.9,395V406.6M1272.5,395V406.6M1366.9,395V406.6M1408.7,395V406.6M1453.1,395V406.6M1539.6,395V406.6M1585.2,395V406.6M1632.1,395V406.6"/>
<rect x="267.2" y="507.7" width="532.6" height="347.9"/>
<path d="M444.8,507.7V855.6M622.9,507.7V855.6M342.9,845.2V855.6M370.4,845.2V855.6M426,845.2V855.6M511.7,845.2V855.6M538.8,845.2V855.6M604.3,845.2V855.6M694,845.2V855.6M723,845.2V855.6M782.6,845.2V855.6"/>
<rect x="818.4" y="507.7" width="531.3" height="347.6"/>
<path d="M995.2,507.7V855.3M1173.5,507.7V855.3M839.1,844.5V855.3M887.4,844.5V855.3M937,844.5V855.3M987.8,844.5V855.3M1019.4,844.5V855.3M1065.9,844.5V855.3M1113.8,844.5V855.3M1163.4,844.5V855.3M1196.3,844.5V855.3M1245.5,844.5V855.3M1292.2,844.5V855.3M1340,844.5V855.3"/>
</g>
<path d="M920.7,48.4V56.2H905.6M910.6,51.2L905.6,55.9L910.6,63.2" fill="none" stroke="#7a7a7a" stroke-width="1.3" stroke-linecap="round" stroke-linejoin="round"/>
<text x="1.15" y="24.11" font-family="Liberation Sans, Arial, sans-serif" font-weight="bold" font-size="30.7" textLength="45.25" lengthAdjust="spacingAndGlyphs" fill="#000" stroke="#000" stroke-width="0.2">A-1</text>
<text x="554.47" y="23.83" font-family="Liberation Sans, Arial, sans-serif" font-weight="bold" font-size="31.45" textLength="49.75" lengthAdjust="spacingAndGlyphs" fill="#000" stroke="#000" stroke-width="0.2">A-2</text>
<text x="1099.47" y="24.68" font-family="Liberation Sans, Arial, sans-serif" font-weight="bold" font-size="31.73" textLength="49.75" lengthAdjust="spacingAndGlyphs" fill="#000" stroke="#000" stroke-width="0.2">A-3</text>
<text x="243.47" y="501.66" font-family="Liberation Sans, Arial, sans-serif" font-weight="bold" font-size="31.42" textLength="22.62" lengthAdjust="spacingAndGlyphs" fill="#000" stroke="#000" stroke-width="0.2">B</text>
<text x="806.79" y="502.66" font-family="Liberation Sans, Arial, sans-serif" font-weight="bold" font-size="32.35" textLength="21.44" lengthAdjust="spacingAndGlyphs" fill="#000" stroke="#000" stroke-width="0.2">C</text>
<text x="53.62" y="50.32" font-family="Liberation Serif, Times New Roman, serif" font-size="23.94" textLength="80.13" lengthAdjust="spacingAndGlyphs" fill="#111" stroke="#111" stroke-width="0.25">&lt;0.9 mm</text>
<text x="232.15" y="50.15" font-family="Liberation Serif, Times New Roman, serif" font-size="23.94" textLength="86.68" lengthAdjust="spacingAndGlyphs" fill="#111" stroke="#111" stroke-width="0.25">0.9-2 mm</text>
<text x="421.81" y="50.15" font-family="Liberation Serif, Times New Roman, serif" font-size="23.94" textLength="69.59" lengthAdjust="spacingAndGlyphs" fill="#111" stroke="#111" stroke-width="0.25">2-5 mm</text>
<text x="604.45" y="50.68" font-family="Liberation Serif, Times New Roman, serif" font-size="23.94" textLength="81.43" lengthAdjust="spacingAndGlyphs" fill="#111" stroke="#111" stroke-width="0.25">&lt;0.9 mm</text>
<text x="782.81" y="50.68" font-family="Liberation Serif, Times New Roman, serif" font-size="23.94" textLength="85.44" lengthAdjust="spacingAndGlyphs" fill="#111" stroke="#111" stroke-width="0.25">0.9-2 mm</text>
<text x="971.15" y="50.68" font-family="Liberation Serif, Times New Roman, serif" font-size="23.94" textLength="68.58" lengthAdjust="spacingAndGlyphs" fill="#111" stroke="#111" stroke-width="0.25">2-5 mm</text>
<text x="1150.64" y="50.68" font-family="Liberation Serif, Times New Roman, serif" font-size="23.94" textLength="79.75" lengthAdjust="spacingAndGlyphs" fill="#111" stroke="#111" stroke-width="0.25">&lt;0.9 mm</text>
<text x="1329.15" y="50.68" font-family="Liberation Serif, Times New Roman, serif" font-size="23.94" textLength="85.83" lengthAdjust="spacingAndGlyphs" fill="#111" stroke="#111" stroke-width="0.25">0.9-2 mm</text>
<text x="1517.96" y="50.68" font-family="Liberation Serif, Times New Roman, serif" font-size="23.94" textLength="69.02" lengthAdjust="spacingAndGlyphs" fill="#111" stroke="#111" stroke-width="0.25">2-5 mm</text>
<text x="313.3" y="501.32" font-family="Liberation Serif, Times New Roman, serif" font-size="23.94" textLength="79.75" lengthAdjust="spacingAndGlyphs" fill="#111" stroke="#111" stroke-width="0.25">&lt;0.9 mm</text>
<text x="490.96" y="501.49" font-family="Liberation Serif, Times New Roman, serif" font-size="23.94" textLength="85.12" lengthAdjust="spacingAndGlyphs" fill="#111" stroke="#111" stroke-width="0.25">0.9-2 mm</text>
<text x="679.64" y="501.32" font-family="Liberation Serif, Times New Roman, serif" font-size="23.94" textLength="67.89" lengthAdjust="spacingAndGlyphs" fill="#111" stroke="#111" stroke-width="0.25">2-5 mm</text>
<text x="864.45" y="501.32" font-family="Liberation Serif, Times New Roman, serif" font-size="23.94" textLength="78.79" lengthAdjust="spacingAndGlyphs" fill="#111" stroke="#111" stroke-width="0.25">&lt;0.9 mm</text>
<text x="1041.13" y="501.32" font-family="Liberation Serif, Times New Roman, serif" font-size="23.94" textLength="85.11" lengthAdjust="spacingAndGlyphs" fill="#111" stroke="#111" stroke-width="0.25">0.9-2 mm</text>
<text x="1229.15" y="501.32" font-family="Liberation Serif, Times New Roman, serif" font-size="23.94" textLength="68.58" lengthAdjust="spacingAndGlyphs" fill="#111" stroke="#111" stroke-width="0.25">2-5 mm</text>
<text x="39.24" y="129.49" font-family="Liberation Sans, Arial, sans-serif" font-size="29.85" textLength="38.84" lengthAdjust="spacingAndGlyphs" fill="#111" stroke="#111" stroke-width="0.3">PE</text>
<text x="590.58" y="121.68" font-family="Liberation Sans, Arial, sans-serif" font-size="28.77" textLength="38.58" lengthAdjust="spacingAndGlyphs" fill="#111" stroke="#111" stroke-width="0.3">PE</text>
<text x="1136.24" y="129.51" font-family="Liberation Sans, Arial, sans-serif" font-size="30.05" textLength="39.07" lengthAdjust="spacingAndGlyphs" fill="#111" stroke="#111" stroke-width="0.3">PE</text>
<text x="299.07" y="580.34" font-family="Liberation Sans, Arial, sans-serif" font-size="28.83" textLength="39.05" lengthAdjust="spacingAndGlyphs" fill="#111" stroke="#111" stroke-width="0.3">PP</text>
<text x="843.9" y="572" font-family="Liberation Sans, Arial, sans-serif" font-size="29.34" textLength="57.99" lengthAdjust="spacingAndGlyphs" fill="#111" stroke="#111" stroke-width="0.3">PET</text>
<text x="1662.47" y="83.17" font-family="Liberation Sans, Arial, sans-serif" font-size="22.95" textLength="94.1" lengthAdjust="spacingAndGlyphs" fill="#111" stroke="#111" stroke-width="0.3">0 months</text>
<text x="1662.83" y="157.51" font-family="Liberation Sans, Arial, sans-serif" font-size="22.95" textLength="93.14" lengthAdjust="spacingAndGlyphs" fill="#111" stroke="#111" stroke-width="0.3">4 months</text>
<text x="1662.13" y="241.34" font-family="Liberation Sans, Arial, sans-serif" font-size="22.95" textLength="93.93" lengthAdjust="spacingAndGlyphs" fill="#111" stroke="#111" stroke-width="0.3">8 months</text>
<text x="1662.77" y="326" font-family="Liberation Sans, Arial, sans-serif" font-size="22.95" textLength="105.8" lengthAdjust="spacingAndGlyphs" fill="#111" stroke="#111" stroke-width="0.3">12 months</text>
<text x="1382.96" y="543.51" font-family="Liberation Sans, Arial, sans-serif" font-size="22.95" textLength="93.44" lengthAdjust="spacingAndGlyphs" fill="#111" stroke="#111" stroke-width="0.3">0 months</text>
<text x="1383.66" y="618" font-family="Liberation Sans, Arial, sans-serif" font-size="22.95" textLength="92.65" lengthAdjust="spacingAndGlyphs" fill="#111" stroke="#111" stroke-width="0.3">4 months</text>
<text x="1382.96" y="702" font-family="Liberation Sans, Arial, sans-serif" font-size="22.95" textLength="93.44" lengthAdjust="spacingAndGlyphs" fill="#111" stroke="#111" stroke-width="0.3">8 months</text>
<text x="1384.28" y="785.32" font-family="Liberation Sans, Arial, sans-serif" font-size="22.95" textLength="105.05" lengthAdjust="spacingAndGlyphs" fill="#111" stroke="#111" stroke-width="0.3">12 months</text>
<text x="221.51" y="457.32" font-family="Liberation Sans, Arial, sans-serif" font-size="15.58" textLength="125.75" lengthAdjust="spacingAndGlyphs" fill="#111" stroke="#111" stroke-width="0.3">wavenumber cm</text>
<text x="771.66" y="453.15" font-family="Liberation Sans, Arial, sans-serif" font-size="15.58" textLength="125.68" lengthAdjust="spacingAndGlyphs" fill="#111" stroke="#111" stroke-width="0.3">wavenumber cm</text>
<text x="1318.33" y="456.48" font-family="Liberation Sans, Arial, sans-serif" font-size="15.58" textLength="125.42" lengthAdjust="spacingAndGlyphs" fill="#111" stroke="#111" stroke-width="0.3">wavenumber cm</text>
<text x="480" y="905.01" font-family="Liberation Sans, Arial, sans-serif" font-size="15.58" textLength="125.33" lengthAdjust="spacingAndGlyphs" fill="#111" stroke="#111" stroke-width="0.3">wavenumber cm</text>
<text x="1031.04" y="905.01" font-family="Liberation Sans, Arial, sans-serif" font-size="15.58" textLength="123.91" lengthAdjust="spacingAndGlyphs" fill="#111" stroke="#111" stroke-width="0.3">wavenumber cm</text>
<text x="65.15" y="427" font-family="Liberation Sans, Arial, sans-serif" font-size="14.23" textLength="31.72" lengthAdjust="spacingAndGlyphs" fill="#222" stroke="#222" stroke-width="0.3">3500</text>
<text x="98.81" y="427" font-family="Liberation Sans, Arial, sans-serif" font-size="14.23" textLength="32.56" lengthAdjust="spacingAndGlyphs" fill="#222" stroke="#222" stroke-width="0.3">3360</text>
<text x="150.66" y="427" font-family="Liberation Sans, Arial, sans-serif" font-size="14.23" textLength="31.35" lengthAdjust="spacingAndGlyphs" fill="#222" stroke="#222" stroke-width="0.3">3000</text>
<text x="236.3" y="427" font-family="Liberation Sans, Arial, sans-serif" font-size="14.23" textLength="32.7" lengthAdjust="spacingAndGlyphs" fill="#222" stroke="#222" stroke-width="0.3">3500</text>
<text x="269.66" y="427" font-family="Liberation Sans, Arial, sans-serif" font-size="14.23" textLength="32.69" lengthAdjust="spacingAndGlyphs" fill="#222" stroke="#222" stroke-width="0.3">3360</text>
<text x="330.49" y="427" font-family="Liberation Sans, Arial, sans-serif" font-size="14.23" textLength="33.06" lengthAdjust="spacingAndGlyphs" fill="#222" stroke="#222" stroke-width="0.3">3000</text>
<text x="423.81" y="427" font-family="Liberation Sans, Arial, sans-serif" font-size="14.23" textLength="32.6" lengthAdjust="spacingAndGlyphs" fill="#222" stroke="#222" stroke-width="0.3">3500</text>
<text x="459.13" y="427" font-family="Liberation Sans, Arial, sans-serif" font-size="14.23" textLength="32.95" lengthAdjust="spacingAndGlyphs" fill="#222" stroke="#222" stroke-width="0.3">3360</text>
<text x="505.64" y="427" font-family="Liberation Sans, Arial, sans-serif" font-size="14.23" textLength="32.6" lengthAdjust="spacingAndGlyphs" fill="#222" stroke="#222" stroke-width="0.3">3000</text>
<text x="611.64" y="425.51" font-family="Liberation Sans, Arial, sans-serif" font-size="14.23" textLength="32.6" lengthAdjust="spacingAndGlyphs" fill="#222" stroke="#222" stroke-width="0.3">2000</text>
<text x="677.47" y="425.51" font-family="Liberation Sans, Arial, sans-serif" font-size="14.23" textLength="31.47" lengthAdjust="spacingAndGlyphs" fill="#222" stroke="#222" stroke-width="0.3">1610</text>
<text x="712.96" y="425.51" font-family="Liberation Sans, Arial, sans-serif" font-size="14.23" textLength="31.43" lengthAdjust="spacingAndGlyphs" fill="#222" stroke="#222" stroke-width="0.3">1500</text>
<text x="795.66" y="425.51" font-family="Liberation Sans, Arial, sans-serif" font-size="14.23" textLength="32.04" lengthAdjust="spacingAndGlyphs" fill="#222" stroke="#222" stroke-width="0.3">2000</text>
<text x="864.3" y="425.51" font-family="Liberation Sans, Arial, sans-serif" font-size="14.23" textLength="31.07" lengthAdjust="spacingAndGlyphs" fill="#222" stroke="#222" stroke-width="0.3">1610</text>
<text x="896.96" y="425.51" font-family="Liberation Sans, Arial, sans-serif" font-size="14.23" textLength="31.68" lengthAdjust="spacingAndGlyphs" fill="#222" stroke="#222" stroke-width="0.3">1500</text>
<text x="972.98" y="425.51" font-family="Liberation Sans, Arial, sans-serif" font-size="14.23" textLength="32.6" lengthAdjust="spacingAndGlyphs" fill="#222" stroke="#222" stroke-width="0.3">2000</text>
<text x="1043.45" y="425.51" font-family="Liberation Sans, Arial, sans-serif" font-size="14.23" textLength="32.21" lengthAdjust="spacingAndGlyphs" fill="#222" stroke="#222" stroke-width="0.3">1610</text>
<text x="1079.62" y="425.51" font-family="Liberation Sans, Arial, sans-serif" font-size="14.23" textLength="32.02" lengthAdjust="spacingAndGlyphs" fill="#222" stroke="#222" stroke-width="0.3">1500</text>
<text x="1163.47" y="426.68" font-family="Liberation Sans, Arial, sans-serif" font-size="14.23" textLength="31.38" lengthAdjust="spacingAndGlyphs" fill="#222" stroke="#222" stroke-width="0.3">1000</text>
<text x="1216.64" y="426.68" font-family="Liberation Sans, Arial, sans-serif" font-size="14.23" textLength="24.5" lengthAdjust="spacingAndGlyphs" fill="#222" stroke="#222" stroke-width="0.3">850</text>
<text x="1259.3" y="426.68" font-family="Liberation Sans, Arial, sans-serif" font-size="14.23" textLength="23.96" lengthAdjust="spacingAndGlyphs" fill="#222" stroke="#222" stroke-width="0.3">700</text>
<text x="1346.79" y="426.68" font-family="Liberation Sans, Arial, sans-serif" font-size="14.23" textLength="32.24" lengthAdjust="spacingAndGlyphs" fill="#222" stroke="#222" stroke-width="0.3">1000</text>
<text x="1395.81" y="426.68" font-family="Liberation Sans, Arial, sans-serif" font-size="14.23" textLength="24.5" lengthAdjust="spacingAndGlyphs" fill="#222" stroke="#222" stroke-width="0.3">850</text>
<text x="1441.3" y="426.68" font-family="Liberation Sans, Arial, sans-serif" font-size="14.23" textLength="23.96" lengthAdjust="spacingAndGlyphs" fill="#222" stroke="#222" stroke-width="0.3">700</text>
<text x="1520.45" y="426.68" font-family="Liberation Sans, Arial, sans-serif" font-size="14.23" textLength="33.25" lengthAdjust="spacingAndGlyphs" fill="#222" stroke="#222" stroke-width="0.3">1000</text>
<text x="1574.32" y="426.68" font-family="Liberation Sans, Arial, sans-serif" font-size="14.23" textLength="24.58" lengthAdjust="spacingAndGlyphs" fill="#222" stroke="#222" stroke-width="0.3">850</text>
<text x="1619.98" y="426.68" font-family="Liberation Sans, Arial, sans-serif" font-size="14.23" textLength="24.57" lengthAdjust="spacingAndGlyphs" fill="#222" stroke="#222" stroke-width="0.3">700</text>
<text x="324.66" y="875.34" font-family="Liberation Sans, Arial, sans-serif" font-size="14.23" textLength="30.62" lengthAdjust="spacingAndGlyphs" fill="#222" stroke="#222" stroke-width="0.3">3500</text>
<text x="359.17" y="875.34" font-family="Liberation Sans, Arial, sans-serif" font-size="14.23" textLength="31.87" lengthAdjust="spacingAndGlyphs" fill="#222" stroke="#222" stroke-width="0.3">3360</text>
<text x="409.15" y="875.34" font-family="Liberation Sans, Arial, sans-serif" font-size="14.23" textLength="31.38" lengthAdjust="spacingAndGlyphs" fill="#222" stroke="#222" stroke-width="0.3">3000</text>
<text x="494.64" y="875.34" font-family="Liberation Sans, Arial, sans-serif" font-size="14.23" textLength="31.41" lengthAdjust="spacingAndGlyphs" fill="#222" stroke="#222" stroke-width="0.3">3500</text>
<text x="527.98" y="875.34" font-family="Liberation Sans, Arial, sans-serif" font-size="14.23" textLength="32.34" lengthAdjust="spacingAndGlyphs" fill="#222" stroke="#222" stroke-width="0.3">3360</text>
<text x="588.13" y="875.34" font-family="Liberation Sans, Arial, sans-serif" font-size="14.23" textLength="32.45" lengthAdjust="spacingAndGlyphs" fill="#222" stroke="#222" stroke-width="0.3">3000</text>
<text x="680.3" y="875.34" font-family="Liberation Sans, Arial, sans-serif" font-size="14.23" textLength="33.28" lengthAdjust="spacingAndGlyphs" fill="#222" stroke="#222" stroke-width="0.3">3500</text>
<text x="716.66" y="875.34" font-family="Liberation Sans, Arial, sans-serif" font-size="14.23" textLength="31.02" lengthAdjust="spacingAndGlyphs" fill="#222" stroke="#222" stroke-width="0.3">3360</text>
<text x="762.3" y="875.34" font-family="Liberation Sans, Arial, sans-serif" font-size="14.23" textLength="31.74" lengthAdjust="spacingAndGlyphs" fill="#222" stroke="#222" stroke-width="0.3">3000</text>
<text x="822.32" y="875" font-family="Liberation Sans, Arial, sans-serif" font-size="14.23" textLength="32.6" lengthAdjust="spacingAndGlyphs" fill="#222" stroke="#222" stroke-width="0.3">3500</text>
<text x="872.98" y="875.83" font-family="Liberation Sans, Arial, sans-serif" font-size="14.23" textLength="32.95" lengthAdjust="spacingAndGlyphs" fill="#222" stroke="#222" stroke-width="0.3">2500</text>
<text x="919.96" y="873.32" font-family="Liberation Sans, Arial, sans-serif" font-size="14.23" textLength="31.28" lengthAdjust="spacingAndGlyphs" fill="#222" stroke="#222" stroke-width="0.3">1500</text>
<text x="972.49" y="873.32" font-family="Liberation Sans, Arial, sans-serif" font-size="14.23" textLength="23.41" lengthAdjust="spacingAndGlyphs" fill="#222" stroke="#222" stroke-width="0.3">500</text>
<text x="1007.49" y="875.68" font-family="Liberation Sans, Arial, sans-serif" font-size="14.23" textLength="31.9" lengthAdjust="spacingAndGlyphs" fill="#222" stroke="#222" stroke-width="0.3">3500</text>
<text x="1050.17" y="875.68" font-family="Liberation Sans, Arial, sans-serif" font-size="14.23" textLength="32.7" lengthAdjust="spacingAndGlyphs" fill="#222" stroke="#222" stroke-width="0.3">2500</text>
<text x="1096.45" y="875.83" font-family="Liberation Sans, Arial, sans-serif" font-size="14.23" textLength="32.18" lengthAdjust="spacingAndGlyphs" fill="#222" stroke="#222" stroke-width="0.3">1500</text>
<text x="1149.13" y="875" font-family="Liberation Sans, Arial, sans-serif" font-size="14.23" textLength="24.42" lengthAdjust="spacingAndGlyphs" fill="#222" stroke="#222" stroke-width="0.3">500</text>
<text x="1184.3" y="875" font-family="Liberation Sans, Arial, sans-serif" font-size="14.23" textLength="32.6" lengthAdjust="spacingAndGlyphs" fill="#222" stroke="#222" stroke-width="0.3">3500</text>
<text x="1230.66" y="875" font-family="Liberation Sans, Arial, sans-serif" font-size="14.23" textLength="32.23" lengthAdjust="spacingAndGlyphs" fill="#222" stroke="#222" stroke-width="0.3">2500</text>
<text x="1276.45" y="875.68" font-family="Liberation Sans, Arial, sans-serif" font-size="14.23" textLength="32.21" lengthAdjust="spacingAndGlyphs" fill="#222" stroke="#222" stroke-width="0.3">1500</text>
<text x="1327.81" y="874.51" font-family="Liberation Sans, Arial, sans-serif" font-size="14.23" textLength="23.3" lengthAdjust="spacingAndGlyphs" fill="#222" stroke="#222" stroke-width="0.3">500</text>
<text y="454.2" font-family="Liberation Sans, Arial, sans-serif" font-size="8.5" fill="#111" stroke="#111" stroke-width="0.2"><tspan x="347.5">-</tspan><tspan x="351.9">1</tspan></text>
<text y="449.9" font-family="Liberation Sans, Arial, sans-serif" font-size="8.5" fill="#111" stroke="#111" stroke-width="0.2"><tspan x="897.3">-</tspan><tspan x="901.7">1</tspan></text>
<text y="453.2" font-family="Liberation Sans, Arial, sans-serif" font-size="8.5" fill="#111" stroke="#111" stroke-width="0.2"><tspan x="1443.9">-</tspan><tspan x="1448.3">1</tspan></text>
<text y="901.5" font-family="Liberation Sans, Arial, sans-serif" font-size="8.5" fill="#111" stroke="#111" stroke-width="0.2"><tspan x="605.25">-</tspan><tspan x="609.65">1</tspan></text>
<text y="901.5" font-family="Liberation Sans, Arial, sans-serif" font-size="8.5" fill="#111" stroke="#111" stroke-width="0.2"><tspan x="1155.1">-</tspan><tspan x="1159.5">1</tspan></text>
</svg>
</body></html>
